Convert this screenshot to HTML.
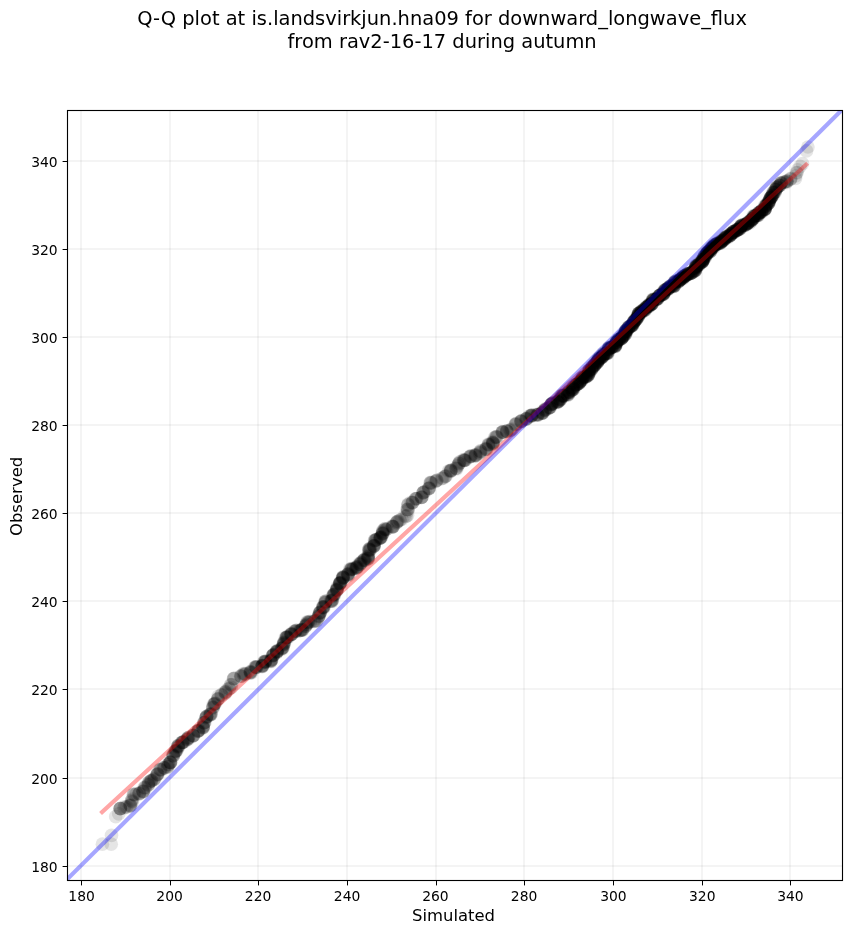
<!DOCTYPE html>
<html><head><meta charset="utf-8"><title>Q-Q plot</title>
<style>
html,body{margin:0;padding:0;background:#fff;}
svg{display:block;font-family:"DejaVu Sans","Liberation Sans",sans-serif;}
text{fill:#000;}
</style></head><body>
<svg width="851" height="934" viewBox="0 0 851 934">
<rect width="851" height="934" fill="#fff"/>
<defs><clipPath id="ax"><rect x="67.5" y="110.5" width="775.0" height="770.0"/></clipPath></defs>
<text x="442.1" y="25.1" font-size="19.44" text-anchor="middle">Q-Q plot at is.landsvirkjun.hna09 for downward_longwave_flux</text>
<text x="442.1" y="47.8" font-size="19.44" text-anchor="middle">from rav2-16-17 during autumn</text>
<g fill="#000" fill-opacity="0.045" clip-path="url(#ax)"><rect x="80" y="110.5" width="2" height="770.0"/><rect x="67.5" y="865" width="775.0" height="2"/><rect x="169" y="110.5" width="2" height="770.0"/><rect x="67.5" y="777" width="775.0" height="2"/><rect x="257" y="110.5" width="2" height="770.0"/><rect x="67.5" y="688" width="775.0" height="2"/><rect x="346" y="110.5" width="2" height="770.0"/><rect x="67.5" y="600" width="775.0" height="2"/><rect x="435" y="110.5" width="2" height="770.0"/><rect x="67.5" y="512" width="775.0" height="2"/><rect x="523" y="110.5" width="2" height="770.0"/><rect x="67.5" y="424" width="775.0" height="2"/><rect x="612" y="110.5" width="2" height="770.0"/><rect x="67.5" y="336" width="775.0" height="2"/><rect x="701" y="110.5" width="2" height="770.0"/><rect x="67.5" y="248" width="775.0" height="2"/><rect x="789" y="110.5" width="2" height="770.0"/><rect x="67.5" y="160" width="775.0" height="2"/></g>
<g clip-path="url(#ax)"><g fill="#000" fill-opacity="0.1"><circle cx="102.4" cy="844.2" r="6.85"/><circle cx="111.2" cy="844.2" r="6.85"/><circle cx="111.5" cy="835.3" r="6.85"/><circle cx="115.7" cy="816.7" r="6.85"/><circle cx="118.7" cy="813.8" r="6.85"/><circle cx="120.4" cy="808.6" r="6.85"/><circle cx="120.3" cy="808.7" r="6.85"/><circle cx="120.4" cy="808.4" r="6.85"/><circle cx="120.1" cy="808.6" r="6.85"/><circle cx="120.1" cy="808.5" r="6.85"/><circle cx="124.5" cy="806.9" r="6.85"/><circle cx="125.8" cy="807.2" r="6.85"/><circle cx="126.9" cy="806.9" r="6.85"/><circle cx="123.8" cy="808.2" r="6.85"/><circle cx="130.2" cy="804.6" r="6.85"/><circle cx="130.3" cy="805.6" r="6.85"/><circle cx="129.2" cy="806.2" r="6.85"/><circle cx="130.7" cy="805.7" r="6.85"/><circle cx="130.2" cy="805.7" r="6.85"/><circle cx="131.7" cy="800.4" r="6.85"/><circle cx="131.7" cy="802.2" r="6.85"/><circle cx="132.3" cy="799.1" r="6.85"/><circle cx="131.4" cy="800.9" r="6.85"/><circle cx="132.5" cy="801.5" r="6.85"/><circle cx="134.8" cy="794.8" r="6.85"/><circle cx="133.5" cy="794.1" r="6.85"/><circle cx="134.1" cy="794.3" r="6.85"/><circle cx="133.5" cy="794.7" r="6.85"/><circle cx="136.6" cy="793.9" r="6.85"/><circle cx="139.7" cy="792.9" r="6.85"/><circle cx="139.1" cy="793.9" r="6.85"/><circle cx="138.8" cy="793.6" r="6.85"/><circle cx="139.4" cy="793.6" r="6.85"/><circle cx="142.8" cy="792.1" r="6.85"/><circle cx="143.1" cy="791.1" r="6.85"/><circle cx="143.0" cy="791.3" r="6.85"/><circle cx="143.4" cy="791.5" r="6.85"/><circle cx="143.3" cy="791.2" r="6.85"/><circle cx="144.9" cy="788.9" r="6.85"/><circle cx="144.8" cy="787.7" r="6.85"/><circle cx="144.2" cy="787.7" r="6.85"/><circle cx="145.4" cy="787.4" r="6.85"/><circle cx="148.8" cy="782.6" r="6.85"/><circle cx="148.3" cy="784.9" r="6.85"/><circle cx="148.5" cy="785.0" r="6.85"/><circle cx="148.3" cy="784.7" r="6.85"/><circle cx="148.2" cy="783.7" r="6.85"/><circle cx="151.9" cy="780.7" r="6.85"/><circle cx="150.7" cy="781.1" r="6.85"/><circle cx="151.6" cy="780.7" r="6.85"/><circle cx="150.6" cy="781.1" r="6.85"/><circle cx="151.3" cy="780.7" r="6.85"/><circle cx="149.4" cy="781.8" r="6.85"/><circle cx="153.6" cy="779.3" r="6.85"/><circle cx="154.6" cy="778.8" r="6.85"/><circle cx="153.9" cy="779.7" r="6.85"/><circle cx="154.9" cy="778.2" r="6.85"/><circle cx="157.4" cy="774.3" r="6.85"/><circle cx="156.9" cy="775.1" r="6.85"/><circle cx="157.4" cy="773.8" r="6.85"/><circle cx="157.9" cy="774.1" r="6.85"/><circle cx="157.4" cy="774.0" r="6.85"/><circle cx="157.0" cy="774.8" r="6.85"/><circle cx="160.6" cy="769.9" r="6.85"/><circle cx="161.7" cy="769.6" r="6.85"/><circle cx="160.2" cy="769.4" r="6.85"/><circle cx="160.4" cy="769.9" r="6.85"/><circle cx="159.7" cy="769.6" r="6.85"/><circle cx="163.4" cy="767.7" r="6.85"/><circle cx="164.7" cy="767.9" r="6.85"/><circle cx="163.7" cy="767.9" r="6.85"/><circle cx="164.4" cy="768.0" r="6.85"/><circle cx="168.0" cy="766.8" r="6.85"/><circle cx="167.6" cy="767.2" r="6.85"/><circle cx="167.4" cy="766.5" r="6.85"/><circle cx="168.0" cy="764.8" r="6.85"/><circle cx="168.8" cy="764.3" r="6.85"/><circle cx="168.2" cy="764.4" r="6.85"/><circle cx="170.5" cy="762.4" r="6.85"/><circle cx="170.7" cy="762.4" r="6.85"/><circle cx="170.0" cy="762.4" r="6.85"/><circle cx="170.6" cy="761.9" r="6.85"/><circle cx="170.2" cy="762.8" r="6.85"/><circle cx="169.8" cy="762.4" r="6.85"/><circle cx="170.3" cy="762.4" r="6.85"/><circle cx="172.7" cy="754.9" r="6.85"/><circle cx="173.3" cy="756.0" r="6.85"/><circle cx="173.6" cy="755.5" r="6.85"/><circle cx="173.5" cy="754.2" r="6.85"/><circle cx="173.3" cy="755.8" r="6.85"/><circle cx="172.9" cy="755.7" r="6.85"/><circle cx="176.0" cy="750.8" r="6.85"/><circle cx="175.1" cy="752.4" r="6.85"/><circle cx="176.4" cy="750.5" r="6.85"/><circle cx="175.4" cy="751.5" r="6.85"/><circle cx="175.1" cy="751.5" r="6.85"/><circle cx="176.1" cy="751.1" r="6.85"/><circle cx="176.9" cy="750.4" r="6.85"/><circle cx="175.5" cy="750.7" r="6.85"/><circle cx="178.2" cy="745.3" r="6.85"/><circle cx="178.0" cy="745.9" r="6.85"/><circle cx="178.1" cy="747.6" r="6.85"/><circle cx="178.3" cy="745.6" r="6.85"/><circle cx="178.6" cy="746.5" r="6.85"/><circle cx="178.4" cy="747.1" r="6.85"/><circle cx="178.0" cy="746.4" r="6.85"/><circle cx="177.6" cy="746.5" r="6.85"/><circle cx="183.5" cy="741.8" r="6.85"/><circle cx="182.2" cy="742.7" r="6.85"/><circle cx="184.4" cy="741.8" r="6.85"/><circle cx="182.5" cy="742.3" r="6.85"/><circle cx="182.3" cy="742.2" r="6.85"/><circle cx="182.8" cy="742.3" r="6.85"/><circle cx="183.1" cy="742.2" r="6.85"/><circle cx="181.7" cy="742.4" r="6.85"/><circle cx="181.5" cy="742.9" r="6.85"/><circle cx="187.5" cy="739.1" r="6.85"/><circle cx="188.5" cy="737.7" r="6.85"/><circle cx="187.7" cy="738.1" r="6.85"/><circle cx="187.8" cy="737.9" r="6.85"/><circle cx="188.6" cy="738.9" r="6.85"/><circle cx="187.1" cy="739.8" r="6.85"/><circle cx="188.0" cy="738.8" r="6.85"/><circle cx="186.9" cy="739.3" r="6.85"/><circle cx="188.7" cy="737.4" r="6.85"/><circle cx="193.0" cy="735.4" r="6.85"/><circle cx="193.0" cy="735.9" r="6.85"/><circle cx="193.4" cy="735.9" r="6.85"/><circle cx="193.3" cy="735.6" r="6.85"/><circle cx="193.0" cy="735.4" r="6.85"/><circle cx="193.5" cy="735.5" r="6.85"/><circle cx="197.7" cy="731.4" r="6.85"/><circle cx="197.4" cy="731.0" r="6.85"/><circle cx="198.2" cy="731.0" r="6.85"/><circle cx="199.0" cy="730.1" r="6.85"/><circle cx="198.9" cy="730.6" r="6.85"/><circle cx="198.1" cy="731.1" r="6.85"/><circle cx="198.4" cy="730.7" r="6.85"/><circle cx="198.0" cy="731.0" r="6.85"/><circle cx="202.8" cy="727.6" r="6.85"/><circle cx="203.0" cy="727.7" r="6.85"/><circle cx="203.0" cy="727.2" r="6.85"/><circle cx="203.4" cy="725.7" r="6.85"/><circle cx="203.3" cy="726.9" r="6.85"/><circle cx="202.9" cy="726.6" r="6.85"/><circle cx="203.1" cy="728.0" r="6.85"/><circle cx="204.1" cy="722.6" r="6.85"/><circle cx="204.0" cy="723.0" r="6.85"/><circle cx="204.4" cy="722.6" r="6.85"/><circle cx="203.8" cy="722.6" r="6.85"/><circle cx="205.0" cy="722.0" r="6.85"/><circle cx="206.2" cy="717.7" r="6.85"/><circle cx="206.5" cy="716.3" r="6.85"/><circle cx="206.5" cy="716.9" r="6.85"/><circle cx="205.7" cy="718.0" r="6.85"/><circle cx="206.5" cy="716.6" r="6.85"/><circle cx="206.5" cy="716.6" r="6.85"/><circle cx="207.2" cy="716.5" r="6.85"/><circle cx="210.8" cy="714.7" r="6.85"/><circle cx="211.2" cy="714.3" r="6.85"/><circle cx="210.7" cy="713.6" r="6.85"/><circle cx="209.4" cy="714.6" r="6.85"/><circle cx="210.0" cy="715.2" r="6.85"/><circle cx="210.2" cy="714.2" r="6.85"/><circle cx="210.5" cy="714.4" r="6.85"/><circle cx="213.0" cy="707.4" r="6.85"/><circle cx="212.7" cy="707.5" r="6.85"/><circle cx="213.0" cy="708.4" r="6.85"/><circle cx="213.1" cy="707.0" r="6.85"/><circle cx="214.9" cy="703.8" r="6.85"/><circle cx="214.8" cy="703.2" r="6.85"/><circle cx="214.3" cy="704.0" r="6.85"/><circle cx="215.3" cy="703.3" r="6.85"/><circle cx="214.2" cy="704.6" r="6.85"/><circle cx="214.3" cy="703.8" r="6.85"/><circle cx="213.2" cy="704.5" r="6.85"/><circle cx="218.2" cy="696.4" r="6.85"/><circle cx="217.9" cy="699.2" r="6.85"/><circle cx="218.1" cy="698.5" r="6.85"/><circle cx="217.8" cy="699.5" r="6.85"/><circle cx="218.0" cy="698.8" r="6.85"/><circle cx="220.9" cy="695.0" r="6.85"/><circle cx="221.6" cy="694.7" r="6.85"/><circle cx="221.7" cy="695.4" r="6.85"/><circle cx="225.3" cy="692.1" r="6.85"/><circle cx="225.4" cy="693.5" r="6.85"/><circle cx="225.0" cy="692.1" r="6.85"/><circle cx="226.2" cy="691.4" r="6.85"/><circle cx="225.7" cy="692.4" r="6.85"/><circle cx="229.2" cy="688.6" r="6.85"/><circle cx="227.1" cy="689.6" r="6.85"/><circle cx="229.0" cy="688.4" r="6.85"/><circle cx="231.1" cy="684.6" r="6.85"/><circle cx="231.8" cy="684.8" r="6.85"/><circle cx="231.3" cy="687.6" r="6.85"/><circle cx="230.5" cy="684.8" r="6.85"/><circle cx="234.4" cy="678.3" r="6.85"/><circle cx="233.7" cy="678.4" r="6.85"/><circle cx="233.5" cy="678.6" r="6.85"/><circle cx="233.8" cy="678.8" r="6.85"/><circle cx="241.0" cy="675.9" r="6.85"/><circle cx="241.1" cy="676.2" r="6.85"/><circle cx="240.6" cy="676.2" r="6.85"/><circle cx="241.3" cy="676.5" r="6.85"/><circle cx="244.6" cy="674.0" r="6.85"/><circle cx="245.1" cy="674.1" r="6.85"/><circle cx="244.1" cy="673.3" r="6.85"/><circle cx="243.2" cy="674.0" r="6.85"/><circle cx="245.7" cy="673.8" r="6.85"/><circle cx="243.7" cy="674.8" r="6.85"/><circle cx="251.7" cy="672.6" r="6.85"/><circle cx="250.3" cy="671.7" r="6.85"/><circle cx="250.6" cy="671.6" r="6.85"/><circle cx="250.3" cy="672.6" r="6.85"/><circle cx="250.7" cy="672.2" r="6.85"/><circle cx="250.8" cy="672.4" r="6.85"/><circle cx="250.3" cy="673.1" r="6.85"/><circle cx="255.7" cy="666.8" r="6.85"/><circle cx="256.8" cy="667.5" r="6.85"/><circle cx="256.4" cy="667.2" r="6.85"/><circle cx="256.1" cy="667.0" r="6.85"/><circle cx="255.0" cy="666.9" r="6.85"/><circle cx="256.0" cy="666.9" r="6.85"/><circle cx="256.3" cy="667.7" r="6.85"/><circle cx="255.1" cy="667.4" r="6.85"/><circle cx="262.5" cy="665.6" r="6.85"/><circle cx="262.8" cy="666.2" r="6.85"/><circle cx="261.9" cy="665.7" r="6.85"/><circle cx="262.3" cy="666.6" r="6.85"/><circle cx="261.9" cy="666.4" r="6.85"/><circle cx="262.4" cy="665.8" r="6.85"/><circle cx="262.4" cy="665.6" r="6.85"/><circle cx="262.3" cy="665.5" r="6.85"/><circle cx="264.1" cy="661.8" r="6.85"/><circle cx="264.4" cy="661.7" r="6.85"/><circle cx="265.2" cy="662.1" r="6.85"/><circle cx="263.8" cy="661.8" r="6.85"/><circle cx="265.3" cy="661.3" r="6.85"/><circle cx="265.4" cy="661.0" r="6.85"/><circle cx="265.4" cy="662.0" r="6.85"/><circle cx="264.7" cy="662.6" r="6.85"/><circle cx="265.7" cy="661.7" r="6.85"/><circle cx="270.4" cy="660.0" r="6.85"/><circle cx="272.0" cy="659.5" r="6.85"/><circle cx="271.5" cy="660.0" r="6.85"/><circle cx="271.0" cy="661.7" r="6.85"/><circle cx="271.1" cy="660.2" r="6.85"/><circle cx="270.9" cy="661.2" r="6.85"/><circle cx="270.8" cy="661.0" r="6.85"/><circle cx="271.0" cy="660.6" r="6.85"/><circle cx="270.5" cy="661.0" r="6.85"/><circle cx="272.9" cy="655.0" r="6.85"/><circle cx="273.3" cy="655.4" r="6.85"/><circle cx="273.1" cy="654.9" r="6.85"/><circle cx="273.2" cy="655.6" r="6.85"/><circle cx="272.3" cy="655.8" r="6.85"/><circle cx="272.4" cy="655.9" r="6.85"/><circle cx="273.6" cy="654.9" r="6.85"/><circle cx="273.4" cy="654.7" r="6.85"/><circle cx="278.1" cy="650.7" r="6.85"/><circle cx="276.9" cy="652.6" r="6.85"/><circle cx="276.8" cy="651.4" r="6.85"/><circle cx="276.7" cy="651.3" r="6.85"/><circle cx="277.0" cy="651.7" r="6.85"/><circle cx="276.9" cy="651.5" r="6.85"/><circle cx="277.0" cy="651.9" r="6.85"/><circle cx="276.7" cy="651.4" r="6.85"/><circle cx="277.1" cy="652.1" r="6.85"/><circle cx="276.8" cy="650.5" r="6.85"/><circle cx="283.0" cy="647.8" r="6.85"/><circle cx="283.2" cy="647.1" r="6.85"/><circle cx="281.7" cy="648.6" r="6.85"/><circle cx="281.6" cy="648.4" r="6.85"/><circle cx="282.2" cy="649.1" r="6.85"/><circle cx="281.4" cy="648.5" r="6.85"/><circle cx="282.5" cy="648.0" r="6.85"/><circle cx="282.3" cy="647.7" r="6.85"/><circle cx="283.9" cy="642.6" r="6.85"/><circle cx="283.7" cy="644.5" r="6.85"/><circle cx="283.7" cy="643.2" r="6.85"/><circle cx="284.5" cy="643.4" r="6.85"/><circle cx="284.2" cy="641.7" r="6.85"/><circle cx="283.2" cy="643.9" r="6.85"/><circle cx="284.2" cy="642.6" r="6.85"/><circle cx="283.3" cy="644.9" r="6.85"/><circle cx="283.9" cy="644.3" r="6.85"/><circle cx="285.9" cy="637.9" r="6.85"/><circle cx="286.6" cy="637.3" r="6.85"/><circle cx="287.0" cy="636.9" r="6.85"/><circle cx="286.9" cy="637.4" r="6.85"/><circle cx="286.0" cy="638.0" r="6.85"/><circle cx="287.8" cy="637.5" r="6.85"/><circle cx="285.5" cy="637.3" r="6.85"/><circle cx="288.2" cy="637.2" r="6.85"/><circle cx="286.9" cy="637.3" r="6.85"/><circle cx="286.8" cy="637.0" r="6.85"/><circle cx="290.7" cy="634.3" r="6.85"/><circle cx="290.8" cy="634.6" r="6.85"/><circle cx="291.7" cy="634.3" r="6.85"/><circle cx="291.1" cy="634.9" r="6.85"/><circle cx="291.1" cy="633.7" r="6.85"/><circle cx="291.8" cy="633.9" r="6.85"/><circle cx="291.7" cy="634.1" r="6.85"/><circle cx="291.4" cy="634.3" r="6.85"/><circle cx="296.4" cy="630.6" r="6.85"/><circle cx="295.5" cy="630.7" r="6.85"/><circle cx="299.5" cy="630.5" r="6.85"/><circle cx="294.8" cy="631.1" r="6.85"/><circle cx="295.2" cy="631.5" r="6.85"/><circle cx="296.7" cy="630.2" r="6.85"/><circle cx="297.5" cy="631.3" r="6.85"/><circle cx="295.5" cy="631.6" r="6.85"/><circle cx="294.8" cy="631.1" r="6.85"/><circle cx="300.4" cy="630.7" r="6.85"/><circle cx="300.7" cy="629.9" r="6.85"/><circle cx="301.2" cy="630.0" r="6.85"/><circle cx="302.5" cy="629.8" r="6.85"/><circle cx="302.2" cy="630.2" r="6.85"/><circle cx="302.5" cy="630.1" r="6.85"/><circle cx="300.8" cy="630.4" r="6.85"/><circle cx="302.3" cy="629.4" r="6.85"/><circle cx="302.0" cy="629.7" r="6.85"/><circle cx="306.4" cy="624.3" r="6.85"/><circle cx="305.8" cy="625.9" r="6.85"/><circle cx="305.4" cy="626.4" r="6.85"/><circle cx="306.1" cy="625.7" r="6.85"/><circle cx="306.0" cy="624.5" r="6.85"/><circle cx="305.3" cy="626.1" r="6.85"/><circle cx="307.1" cy="624.2" r="6.85"/><circle cx="310.2" cy="621.4" r="6.85"/><circle cx="308.7" cy="622.6" r="6.85"/><circle cx="307.4" cy="622.3" r="6.85"/><circle cx="307.6" cy="622.5" r="6.85"/><circle cx="308.3" cy="622.3" r="6.85"/><circle cx="308.7" cy="621.5" r="6.85"/><circle cx="306.9" cy="621.9" r="6.85"/><circle cx="310.6" cy="622.0" r="6.85"/><circle cx="316.8" cy="620.8" r="6.85"/><circle cx="314.4" cy="621.3" r="6.85"/><circle cx="313.5" cy="621.2" r="6.85"/><circle cx="314.7" cy="621.2" r="6.85"/><circle cx="315.2" cy="620.5" r="6.85"/><circle cx="316.4" cy="620.6" r="6.85"/><circle cx="319.3" cy="615.6" r="6.85"/><circle cx="318.7" cy="617.0" r="6.85"/><circle cx="317.8" cy="618.2" r="6.85"/><circle cx="318.6" cy="616.4" r="6.85"/><circle cx="318.9" cy="615.8" r="6.85"/><circle cx="318.6" cy="615.9" r="6.85"/><circle cx="320.3" cy="612.1" r="6.85"/><circle cx="320.3" cy="612.5" r="6.85"/><circle cx="319.9" cy="612.7" r="6.85"/><circle cx="319.4" cy="613.6" r="6.85"/><circle cx="319.4" cy="612.7" r="6.85"/><circle cx="319.8" cy="613.3" r="6.85"/><circle cx="320.4" cy="611.9" r="6.85"/><circle cx="322.6" cy="607.1" r="6.85"/><circle cx="323.6" cy="607.2" r="6.85"/><circle cx="322.8" cy="606.9" r="6.85"/><circle cx="323.4" cy="607.2" r="6.85"/><circle cx="323.9" cy="606.5" r="6.85"/><circle cx="323.5" cy="607.1" r="6.85"/><circle cx="323.8" cy="608.2" r="6.85"/><circle cx="322.5" cy="608.0" r="6.85"/><circle cx="323.0" cy="607.6" r="6.85"/><circle cx="325.7" cy="602.3" r="6.85"/><circle cx="325.8" cy="601.4" r="6.85"/><circle cx="325.3" cy="601.2" r="6.85"/><circle cx="325.1" cy="602.5" r="6.85"/><circle cx="325.2" cy="601.4" r="6.85"/><circle cx="325.8" cy="601.7" r="6.85"/><circle cx="325.5" cy="602.8" r="6.85"/><circle cx="332.1" cy="600.0" r="6.85"/><circle cx="331.7" cy="601.1" r="6.85"/><circle cx="331.3" cy="600.6" r="6.85"/><circle cx="331.9" cy="601.0" r="6.85"/><circle cx="330.9" cy="601.1" r="6.85"/><circle cx="330.5" cy="601.0" r="6.85"/><circle cx="331.9" cy="601.4" r="6.85"/><circle cx="332.3" cy="600.0" r="6.85"/><circle cx="332.5" cy="596.7" r="6.85"/><circle cx="333.8" cy="594.5" r="6.85"/><circle cx="333.4" cy="595.2" r="6.85"/><circle cx="333.0" cy="594.8" r="6.85"/><circle cx="334.5" cy="593.8" r="6.85"/><circle cx="333.6" cy="594.6" r="6.85"/><circle cx="334.4" cy="594.3" r="6.85"/><circle cx="334.0" cy="595.0" r="6.85"/><circle cx="334.0" cy="595.9" r="6.85"/><circle cx="337.0" cy="589.5" r="6.85"/><circle cx="337.0" cy="589.9" r="6.85"/><circle cx="337.2" cy="589.1" r="6.85"/><circle cx="336.7" cy="590.1" r="6.85"/><circle cx="336.1" cy="590.2" r="6.85"/><circle cx="337.0" cy="588.3" r="6.85"/><circle cx="337.2" cy="589.0" r="6.85"/><circle cx="337.0" cy="590.6" r="6.85"/><circle cx="336.7" cy="590.0" r="6.85"/><circle cx="337.3" cy="587.1" r="6.85"/><circle cx="340.1" cy="583.7" r="6.85"/><circle cx="339.5" cy="584.2" r="6.85"/><circle cx="340.0" cy="582.8" r="6.85"/><circle cx="339.7" cy="583.6" r="6.85"/><circle cx="340.0" cy="583.7" r="6.85"/><circle cx="340.4" cy="582.9" r="6.85"/><circle cx="340.3" cy="582.4" r="6.85"/><circle cx="339.6" cy="583.1" r="6.85"/><circle cx="341.0" cy="582.5" r="6.85"/><circle cx="339.8" cy="583.2" r="6.85"/><circle cx="340.0" cy="583.6" r="6.85"/><circle cx="342.5" cy="577.3" r="6.85"/><circle cx="342.9" cy="578.1" r="6.85"/><circle cx="343.1" cy="577.2" r="6.85"/><circle cx="343.0" cy="576.7" r="6.85"/><circle cx="342.3" cy="578.6" r="6.85"/><circle cx="343.0" cy="577.6" r="6.85"/><circle cx="343.6" cy="577.7" r="6.85"/><circle cx="343.2" cy="577.5" r="6.85"/><circle cx="342.9" cy="578.1" r="6.85"/><circle cx="343.0" cy="577.4" r="6.85"/><circle cx="347.6" cy="574.7" r="6.85"/><circle cx="348.3" cy="573.7" r="6.85"/><circle cx="348.0" cy="573.8" r="6.85"/><circle cx="347.9" cy="574.7" r="6.85"/><circle cx="348.3" cy="575.2" r="6.85"/><circle cx="348.3" cy="575.9" r="6.85"/><circle cx="348.3" cy="574.2" r="6.85"/><circle cx="347.6" cy="574.6" r="6.85"/><circle cx="352.5" cy="569.0" r="6.85"/><circle cx="350.7" cy="569.8" r="6.85"/><circle cx="351.7" cy="568.4" r="6.85"/><circle cx="352.7" cy="569.5" r="6.85"/><circle cx="353.4" cy="568.8" r="6.85"/><circle cx="351.8" cy="569.4" r="6.85"/><circle cx="351.2" cy="568.9" r="6.85"/><circle cx="349.7" cy="569.0" r="6.85"/><circle cx="350.3" cy="569.7" r="6.85"/><circle cx="350.9" cy="569.5" r="6.85"/><circle cx="356.1" cy="568.0" r="6.85"/><circle cx="355.8" cy="568.0" r="6.85"/><circle cx="356.2" cy="568.2" r="6.85"/><circle cx="356.2" cy="566.8" r="6.85"/><circle cx="356.9" cy="567.1" r="6.85"/><circle cx="357.3" cy="566.9" r="6.85"/><circle cx="356.8" cy="568.1" r="6.85"/><circle cx="357.5" cy="567.4" r="6.85"/><circle cx="357.3" cy="566.6" r="6.85"/><circle cx="358.9" cy="563.8" r="6.85"/><circle cx="360.3" cy="563.9" r="6.85"/><circle cx="359.9" cy="564.4" r="6.85"/><circle cx="359.9" cy="564.5" r="6.85"/><circle cx="360.5" cy="562.9" r="6.85"/><circle cx="360.5" cy="564.1" r="6.85"/><circle cx="360.9" cy="562.6" r="6.85"/><circle cx="361.5" cy="562.6" r="6.85"/><circle cx="365.2" cy="560.2" r="6.85"/><circle cx="364.0" cy="560.0" r="6.85"/><circle cx="363.9" cy="559.9" r="6.85"/><circle cx="363.6" cy="560.6" r="6.85"/><circle cx="364.8" cy="558.9" r="6.85"/><circle cx="362.9" cy="560.6" r="6.85"/><circle cx="365.2" cy="560.3" r="6.85"/><circle cx="364.2" cy="559.9" r="6.85"/><circle cx="368.0" cy="556.5" r="6.85"/><circle cx="368.5" cy="555.9" r="6.85"/><circle cx="368.0" cy="555.2" r="6.85"/><circle cx="367.7" cy="557.1" r="6.85"/><circle cx="368.2" cy="558.5" r="6.85"/><circle cx="367.6" cy="558.6" r="6.85"/><circle cx="368.2" cy="557.1" r="6.85"/><circle cx="367.9" cy="558.6" r="6.85"/><circle cx="368.5" cy="558.8" r="6.85"/><circle cx="368.2" cy="557.8" r="6.85"/><circle cx="370.2" cy="550.2" r="6.85"/><circle cx="370.4" cy="549.5" r="6.85"/><circle cx="370.5" cy="548.1" r="6.85"/><circle cx="369.5" cy="549.4" r="6.85"/><circle cx="369.3" cy="548.7" r="6.85"/><circle cx="369.5" cy="550.5" r="6.85"/><circle cx="369.0" cy="549.3" r="6.85"/><circle cx="369.4" cy="549.9" r="6.85"/><circle cx="368.8" cy="549.7" r="6.85"/><circle cx="369.1" cy="551.0" r="6.85"/><circle cx="374.4" cy="543.9" r="6.85"/><circle cx="373.5" cy="546.7" r="6.85"/><circle cx="373.7" cy="545.7" r="6.85"/><circle cx="373.9" cy="546.2" r="6.85"/><circle cx="374.2" cy="545.9" r="6.85"/><circle cx="373.6" cy="545.5" r="6.85"/><circle cx="374.1" cy="545.8" r="6.85"/><circle cx="373.9" cy="546.1" r="6.85"/><circle cx="376.1" cy="539.7" r="6.85"/><circle cx="375.6" cy="539.8" r="6.85"/><circle cx="375.1" cy="540.7" r="6.85"/><circle cx="377.3" cy="539.7" r="6.85"/><circle cx="375.7" cy="540.4" r="6.85"/><circle cx="376.3" cy="539.6" r="6.85"/><circle cx="374.6" cy="540.1" r="6.85"/><circle cx="374.4" cy="540.7" r="6.85"/><circle cx="379.9" cy="538.1" r="6.85"/><circle cx="380.3" cy="538.2" r="6.85"/><circle cx="381.0" cy="536.9" r="6.85"/><circle cx="379.4" cy="538.5" r="6.85"/><circle cx="380.6" cy="537.1" r="6.85"/><circle cx="380.4" cy="537.8" r="6.85"/><circle cx="380.9" cy="537.6" r="6.85"/><circle cx="380.5" cy="537.3" r="6.85"/><circle cx="381.3" cy="537.6" r="6.85"/><circle cx="382.6" cy="530.8" r="6.85"/><circle cx="382.7" cy="533.5" r="6.85"/><circle cx="382.6" cy="531.9" r="6.85"/><circle cx="382.6" cy="533.9" r="6.85"/><circle cx="382.7" cy="532.9" r="6.85"/><circle cx="383.1" cy="533.6" r="6.85"/><circle cx="382.7" cy="532.7" r="6.85"/><circle cx="382.3" cy="533.5" r="6.85"/><circle cx="385.3" cy="529.5" r="6.85"/><circle cx="383.5" cy="530.3" r="6.85"/><circle cx="384.9" cy="529.1" r="6.85"/><circle cx="384.7" cy="528.6" r="6.85"/><circle cx="385.0" cy="529.2" r="6.85"/><circle cx="386.1" cy="529.5" r="6.85"/><circle cx="387.6" cy="528.6" r="6.85"/><circle cx="386.3" cy="529.5" r="6.85"/><circle cx="393.2" cy="526.6" r="6.85"/><circle cx="393.0" cy="526.8" r="6.85"/><circle cx="393.2" cy="526.3" r="6.85"/><circle cx="392.6" cy="526.4" r="6.85"/><circle cx="392.7" cy="526.8" r="6.85"/><circle cx="392.2" cy="527.1" r="6.85"/><circle cx="392.0" cy="526.2" r="6.85"/><circle cx="398.1" cy="521.0" r="6.85"/><circle cx="396.9" cy="521.8" r="6.85"/><circle cx="397.8" cy="521.5" r="6.85"/><circle cx="396.3" cy="522.9" r="6.85"/><circle cx="396.7" cy="522.6" r="6.85"/><circle cx="397.0" cy="521.7" r="6.85"/><circle cx="401.8" cy="519.3" r="6.85"/><circle cx="400.1" cy="520.0" r="6.85"/><circle cx="399.8" cy="520.1" r="6.85"/><circle cx="404.5" cy="515.8" r="6.85"/><circle cx="405.6" cy="516.6" r="6.85"/><circle cx="407.6" cy="515.3" r="6.85"/><circle cx="406.5" cy="516.1" r="6.85"/><circle cx="408.1" cy="510.8" r="6.85"/><circle cx="407.9" cy="509.4" r="6.85"/><circle cx="407.2" cy="509.3" r="6.85"/><circle cx="407.5" cy="509.4" r="6.85"/><circle cx="407.8" cy="509.6" r="6.85"/><circle cx="408.1" cy="505.1" r="6.85"/><circle cx="407.9" cy="504.8" r="6.85"/><circle cx="408.1" cy="504.0" r="6.85"/><circle cx="412.4" cy="502.6" r="6.85"/><circle cx="412.6" cy="502.8" r="6.85"/><circle cx="410.9" cy="502.4" r="6.85"/><circle cx="412.4" cy="502.6" r="6.85"/><circle cx="412.4" cy="502.3" r="6.85"/><circle cx="415.4" cy="498.8" r="6.85"/><circle cx="416.9" cy="498.5" r="6.85"/><circle cx="416.3" cy="498.8" r="6.85"/><circle cx="415.5" cy="498.9" r="6.85"/><circle cx="416.2" cy="498.5" r="6.85"/><circle cx="422.1" cy="497.0" r="6.85"/><circle cx="421.5" cy="497.1" r="6.85"/><circle cx="421.7" cy="497.5" r="6.85"/><circle cx="421.6" cy="497.4" r="6.85"/><circle cx="421.4" cy="497.3" r="6.85"/><circle cx="425.4" cy="491.5" r="6.85"/><circle cx="423.7" cy="492.2" r="6.85"/><circle cx="423.7" cy="492.2" r="6.85"/><circle cx="423.1" cy="492.7" r="6.85"/><circle cx="423.1" cy="492.8" r="6.85"/><circle cx="422.9" cy="492.8" r="6.85"/><circle cx="428.9" cy="488.7" r="6.85"/><circle cx="429.3" cy="488.3" r="6.85"/><circle cx="428.6" cy="488.5" r="6.85"/><circle cx="429.0" cy="488.4" r="6.85"/><circle cx="429.1" cy="487.6" r="6.85"/><circle cx="431.8" cy="482.8" r="6.85"/><circle cx="430.4" cy="482.9" r="6.85"/><circle cx="430.9" cy="482.6" r="6.85"/><circle cx="430.7" cy="483.1" r="6.85"/><circle cx="430.3" cy="482.4" r="6.85"/><circle cx="436.9" cy="480.2" r="6.85"/><circle cx="436.1" cy="481.2" r="6.85"/><circle cx="436.3" cy="480.5" r="6.85"/><circle cx="436.7" cy="480.5" r="6.85"/><circle cx="435.1" cy="481.7" r="6.85"/><circle cx="442.9" cy="478.3" r="6.85"/><circle cx="441.5" cy="478.6" r="6.85"/><circle cx="442.6" cy="478.0" r="6.85"/><circle cx="445.2" cy="476.3" r="6.85"/><circle cx="444.7" cy="476.9" r="6.85"/><circle cx="446.2" cy="475.9" r="6.85"/><circle cx="445.5" cy="476.1" r="6.85"/><circle cx="451.0" cy="470.1" r="6.85"/><circle cx="450.8" cy="470.5" r="6.85"/><circle cx="448.4" cy="471.0" r="6.85"/><circle cx="450.7" cy="470.7" r="6.85"/><circle cx="450.6" cy="471.1" r="6.85"/><circle cx="451.0" cy="470.7" r="6.85"/><circle cx="450.6" cy="471.5" r="6.85"/><circle cx="449.9" cy="470.5" r="6.85"/><circle cx="456.9" cy="468.8" r="6.85"/><circle cx="456.2" cy="468.2" r="6.85"/><circle cx="457.3" cy="466.2" r="6.85"/><circle cx="456.4" cy="468.2" r="6.85"/><circle cx="455.7" cy="468.5" r="6.85"/><circle cx="459.0" cy="463.3" r="6.85"/><circle cx="459.4" cy="462.2" r="6.85"/><circle cx="458.8" cy="463.8" r="6.85"/><circle cx="458.3" cy="465.1" r="6.85"/><circle cx="460.1" cy="461.9" r="6.85"/><circle cx="459.2" cy="463.4" r="6.85"/><circle cx="464.0" cy="460.3" r="6.85"/><circle cx="465.5" cy="460.0" r="6.85"/><circle cx="464.3" cy="460.5" r="6.85"/><circle cx="463.6" cy="460.2" r="6.85"/><circle cx="465.2" cy="460.5" r="6.85"/><circle cx="463.5" cy="459.7" r="6.85"/><circle cx="464.4" cy="460.5" r="6.85"/><circle cx="464.6" cy="459.9" r="6.85"/><circle cx="471.2" cy="456.5" r="6.85"/><circle cx="470.9" cy="456.2" r="6.85"/><circle cx="468.9" cy="457.3" r="6.85"/><circle cx="470.5" cy="456.4" r="6.85"/><circle cx="470.0" cy="456.7" r="6.85"/><circle cx="470.3" cy="455.9" r="6.85"/><circle cx="475.4" cy="454.8" r="6.85"/><circle cx="476.1" cy="455.3" r="6.85"/><circle cx="475.1" cy="455.9" r="6.85"/><circle cx="474.2" cy="455.7" r="6.85"/><circle cx="475.8" cy="454.9" r="6.85"/><circle cx="475.8" cy="455.9" r="6.85"/><circle cx="475.2" cy="455.2" r="6.85"/><circle cx="479.4" cy="452.9" r="6.85"/><circle cx="480.3" cy="450.9" r="6.85"/><circle cx="480.6" cy="452.1" r="6.85"/><circle cx="480.8" cy="451.5" r="6.85"/><circle cx="480.4" cy="451.2" r="6.85"/><circle cx="480.0" cy="453.1" r="6.85"/><circle cx="486.3" cy="449.1" r="6.85"/><circle cx="486.1" cy="448.9" r="6.85"/><circle cx="486.3" cy="448.0" r="6.85"/><circle cx="486.8" cy="449.6" r="6.85"/><circle cx="485.1" cy="449.3" r="6.85"/><circle cx="485.9" cy="449.2" r="6.85"/><circle cx="488.3" cy="444.1" r="6.85"/><circle cx="488.8" cy="444.9" r="6.85"/><circle cx="488.3" cy="445.0" r="6.85"/><circle cx="490.1" cy="444.5" r="6.85"/><circle cx="488.7" cy="444.5" r="6.85"/><circle cx="493.3" cy="443.4" r="6.85"/><circle cx="492.7" cy="442.6" r="6.85"/><circle cx="492.8" cy="441.3" r="6.85"/><circle cx="493.1" cy="442.3" r="6.85"/><circle cx="492.9" cy="442.7" r="6.85"/><circle cx="493.1" cy="443.8" r="6.85"/><circle cx="492.5" cy="444.1" r="6.85"/><circle cx="492.8" cy="442.9" r="6.85"/><circle cx="496.9" cy="436.9" r="6.85"/><circle cx="495.9" cy="437.1" r="6.85"/><circle cx="496.3" cy="436.7" r="6.85"/><circle cx="496.9" cy="437.3" r="6.85"/><circle cx="494.6" cy="437.5" r="6.85"/><circle cx="495.6" cy="436.8" r="6.85"/><circle cx="502.0" cy="432.1" r="6.85"/><circle cx="502.4" cy="432.1" r="6.85"/><circle cx="502.4" cy="432.1" r="6.85"/><circle cx="502.6" cy="431.9" r="6.85"/><circle cx="503.5" cy="432.2" r="6.85"/><circle cx="502.6" cy="432.1" r="6.85"/><circle cx="506.6" cy="431.1" r="6.85"/><circle cx="507.5" cy="431.6" r="6.85"/><circle cx="506.7" cy="431.0" r="6.85"/><circle cx="506.7" cy="431.4" r="6.85"/><circle cx="506.7" cy="431.1" r="6.85"/><circle cx="511.9" cy="428.8" r="6.85"/><circle cx="510.5" cy="429.8" r="6.85"/><circle cx="511.7" cy="429.9" r="6.85"/><circle cx="510.1" cy="430.5" r="6.85"/><circle cx="515.3" cy="424.6" r="6.85"/><circle cx="515.8" cy="423.7" r="6.85"/><circle cx="516.1" cy="424.5" r="6.85"/><circle cx="516.6" cy="423.3" r="6.85"/><circle cx="515.4" cy="424.3" r="6.85"/><circle cx="521.2" cy="421.7" r="6.85"/><circle cx="521.0" cy="421.3" r="6.85"/><circle cx="520.8" cy="421.4" r="6.85"/><circle cx="521.3" cy="421.5" r="6.85"/><circle cx="521.2" cy="420.8" r="6.85"/><circle cx="521.9" cy="420.4" r="6.85"/><circle cx="526.4" cy="418.9" r="6.85"/><circle cx="525.6" cy="419.1" r="6.85"/><circle cx="527.0" cy="418.8" r="6.85"/><circle cx="527.3" cy="417.9" r="6.85"/><circle cx="526.4" cy="418.6" r="6.85"/><circle cx="526.2" cy="419.0" r="6.85"/><circle cx="531.8" cy="415.3" r="6.85"/><circle cx="531.8" cy="415.1" r="6.85"/><circle cx="529.1" cy="416.2" r="6.85"/><circle cx="532.0" cy="415.8" r="6.85"/><circle cx="531.4" cy="415.2" r="6.85"/><circle cx="531.5" cy="415.8" r="6.85"/><circle cx="530.4" cy="415.7" r="6.85"/><circle cx="531.2" cy="415.7" r="6.85"/><circle cx="531.2" cy="415.8" r="6.85"/><circle cx="535.4" cy="414.9" r="6.85"/><circle cx="537.9" cy="414.5" r="6.85"/><circle cx="537.5" cy="414.8" r="6.85"/><circle cx="538.0" cy="415.1" r="6.85"/><circle cx="537.8" cy="414.9" r="6.85"/><circle cx="537.0" cy="415.0" r="6.85"/><circle cx="536.7" cy="414.4" r="6.85"/><circle cx="538.0" cy="414.5" r="6.85"/><circle cx="541.9" cy="411.9" r="6.85"/><circle cx="542.7" cy="412.4" r="6.85"/><circle cx="542.5" cy="413.2" r="6.85"/><circle cx="541.6" cy="413.4" r="6.85"/><circle cx="542.8" cy="413.1" r="6.85"/><circle cx="541.7" cy="413.2" r="6.85"/><circle cx="542.6" cy="412.8" r="6.85"/><circle cx="542.6" cy="412.7" r="6.85"/><circle cx="544.8" cy="409.9" r="6.85"/><circle cx="544.7" cy="410.2" r="6.85"/><circle cx="546.6" cy="409.4" r="6.85"/><circle cx="545.2" cy="409.1" r="6.85"/><circle cx="545.7" cy="408.9" r="6.85"/><circle cx="545.0" cy="410.4" r="6.85"/><circle cx="544.9" cy="410.1" r="6.85"/><circle cx="548.9" cy="408.0" r="6.85"/><circle cx="550.4" cy="407.5" r="6.85"/><circle cx="549.8" cy="407.2" r="6.85"/><circle cx="548.3" cy="408.5" r="6.85"/><circle cx="549.6" cy="407.7" r="6.85"/><circle cx="549.7" cy="407.5" r="6.85"/><circle cx="549.9" cy="407.3" r="6.85"/><circle cx="551.0" cy="404.7" r="6.85"/><circle cx="551.7" cy="403.7" r="6.85"/><circle cx="552.6" cy="402.9" r="6.85"/><circle cx="551.2" cy="404.3" r="6.85"/><circle cx="551.9" cy="403.6" r="6.85"/><circle cx="551.0" cy="404.5" r="6.85"/><circle cx="550.9" cy="404.6" r="6.85"/><circle cx="551.9" cy="403.6" r="6.85"/><circle cx="552.7" cy="403.7" r="6.85"/><circle cx="553.0" cy="402.9" r="6.85"/><circle cx="551.9" cy="404.4" r="6.85"/><circle cx="557.3" cy="402.3" r="6.85"/><circle cx="557.1" cy="401.7" r="6.85"/><circle cx="556.2" cy="402.2" r="6.85"/><circle cx="558.3" cy="401.7" r="6.85"/><circle cx="557.9" cy="401.9" r="6.85"/><circle cx="558.3" cy="401.4" r="6.85"/><circle cx="557.5" cy="401.9" r="6.85"/><circle cx="558.6" cy="401.6" r="6.85"/><circle cx="558.1" cy="400.9" r="6.85"/><circle cx="557.1" cy="401.5" r="6.85"/><circle cx="560.8" cy="399.3" r="6.85"/><circle cx="560.3" cy="399.6" r="6.85"/><circle cx="560.2" cy="399.1" r="6.85"/><circle cx="561.5" cy="397.9" r="6.85"/><circle cx="560.0" cy="399.8" r="6.85"/><circle cx="560.1" cy="399.2" r="6.85"/><circle cx="560.3" cy="398.2" r="6.85"/><circle cx="559.6" cy="398.9" r="6.85"/><circle cx="559.9" cy="400.5" r="6.85"/><circle cx="562.8" cy="395.8" r="6.85"/><circle cx="561.6" cy="395.8" r="6.85"/><circle cx="562.4" cy="395.3" r="6.85"/><circle cx="563.6" cy="395.7" r="6.85"/><circle cx="564.0" cy="395.7" r="6.85"/><circle cx="563.0" cy="395.9" r="6.85"/><circle cx="563.2" cy="395.6" r="6.85"/><circle cx="562.1" cy="396.4" r="6.85"/><circle cx="564.4" cy="395.1" r="6.85"/><circle cx="564.6" cy="395.8" r="6.85"/><circle cx="563.0" cy="395.2" r="6.85"/><circle cx="561.7" cy="395.3" r="6.85"/><circle cx="568.8" cy="392.2" r="6.85"/><circle cx="567.9" cy="392.8" r="6.85"/><circle cx="567.8" cy="394.2" r="6.85"/><circle cx="568.1" cy="395.0" r="6.85"/><circle cx="568.2" cy="394.8" r="6.85"/><circle cx="568.0" cy="392.5" r="6.85"/><circle cx="568.1" cy="394.0" r="6.85"/><circle cx="568.0" cy="394.3" r="6.85"/><circle cx="567.5" cy="393.9" r="6.85"/><circle cx="570.1" cy="392.3" r="6.85"/><circle cx="569.6" cy="390.4" r="6.85"/><circle cx="568.1" cy="391.8" r="6.85"/><circle cx="569.6" cy="392.1" r="6.85"/><circle cx="570.1" cy="391.7" r="6.85"/><circle cx="568.9" cy="391.6" r="6.85"/><circle cx="569.1" cy="391.4" r="6.85"/><circle cx="572.5" cy="389.6" r="6.85"/><circle cx="572.5" cy="390.0" r="6.85"/><circle cx="572.2" cy="389.6" r="6.85"/><circle cx="574.0" cy="389.2" r="6.85"/><circle cx="571.6" cy="390.3" r="6.85"/><circle cx="572.1" cy="390.0" r="6.85"/><circle cx="573.6" cy="388.0" r="6.85"/><circle cx="572.9" cy="387.5" r="6.85"/><circle cx="573.8" cy="386.9" r="6.85"/><circle cx="573.4" cy="388.0" r="6.85"/><circle cx="573.5" cy="388.8" r="6.85"/><circle cx="573.8" cy="386.1" r="6.85"/><circle cx="572.7" cy="387.3" r="6.85"/><circle cx="572.5" cy="388.6" r="6.85"/><circle cx="573.0" cy="389.6" r="6.85"/><circle cx="573.1" cy="387.5" r="6.85"/><circle cx="577.2" cy="384.3" r="6.85"/><circle cx="576.8" cy="384.0" r="6.85"/><circle cx="577.4" cy="384.2" r="6.85"/><circle cx="576.0" cy="384.6" r="6.85"/><circle cx="577.4" cy="384.5" r="6.85"/><circle cx="575.2" cy="384.8" r="6.85"/><circle cx="576.6" cy="384.4" r="6.85"/><circle cx="576.7" cy="384.3" r="6.85"/><circle cx="576.0" cy="384.9" r="6.85"/><circle cx="576.5" cy="384.6" r="6.85"/><circle cx="579.4" cy="382.3" r="6.85"/><circle cx="579.7" cy="382.2" r="6.85"/><circle cx="579.6" cy="381.3" r="6.85"/><circle cx="579.0" cy="383.3" r="6.85"/><circle cx="580.0" cy="381.8" r="6.85"/><circle cx="578.9" cy="383.2" r="6.85"/><circle cx="579.6" cy="382.8" r="6.85"/><circle cx="579.4" cy="383.1" r="6.85"/><circle cx="579.2" cy="382.7" r="6.85"/><circle cx="580.5" cy="381.0" r="6.85"/><circle cx="581.4" cy="379.8" r="6.85"/><circle cx="580.9" cy="380.7" r="6.85"/><circle cx="582.1" cy="379.1" r="6.85"/><circle cx="581.0" cy="380.5" r="6.85"/><circle cx="581.2" cy="380.8" r="6.85"/><circle cx="581.4" cy="380.9" r="6.85"/><circle cx="582.9" cy="377.6" r="6.85"/><circle cx="582.8" cy="378.7" r="6.85"/><circle cx="581.5" cy="378.2" r="6.85"/><circle cx="582.4" cy="378.9" r="6.85"/><circle cx="582.6" cy="377.3" r="6.85"/><circle cx="583.0" cy="377.4" r="6.85"/><circle cx="582.9" cy="377.5" r="6.85"/><circle cx="585.2" cy="376.5" r="6.85"/><circle cx="586.0" cy="376.9" r="6.85"/><circle cx="584.1" cy="376.7" r="6.85"/><circle cx="584.9" cy="376.5" r="6.85"/><circle cx="586.5" cy="376.3" r="6.85"/><circle cx="586.4" cy="376.5" r="6.85"/><circle cx="585.8" cy="376.8" r="6.85"/><circle cx="585.2" cy="376.9" r="6.85"/><circle cx="585.6" cy="376.6" r="6.85"/><circle cx="583.8" cy="376.6" r="6.85"/><circle cx="588.2" cy="373.9" r="6.85"/><circle cx="588.2" cy="374.7" r="6.85"/><circle cx="587.8" cy="375.4" r="6.85"/><circle cx="588.7" cy="374.4" r="6.85"/><circle cx="588.4" cy="374.6" r="6.85"/><circle cx="587.7" cy="375.9" r="6.85"/><circle cx="587.5" cy="376.1" r="6.85"/><circle cx="588.0" cy="373.5" r="6.85"/><circle cx="588.0" cy="374.6" r="6.85"/><circle cx="588.6" cy="374.9" r="6.85"/><circle cx="589.5" cy="372.2" r="6.85"/><circle cx="589.6" cy="370.1" r="6.85"/><circle cx="589.4" cy="370.2" r="6.85"/><circle cx="588.5" cy="370.5" r="6.85"/><circle cx="589.4" cy="372.2" r="6.85"/><circle cx="588.9" cy="370.7" r="6.85"/><circle cx="589.8" cy="369.9" r="6.85"/><circle cx="589.6" cy="372.2" r="6.85"/><circle cx="588.7" cy="371.0" r="6.85"/><circle cx="588.8" cy="371.8" r="6.85"/><circle cx="589.6" cy="370.6" r="6.85"/><circle cx="592.3" cy="368.6" r="6.85"/><circle cx="591.7" cy="368.6" r="6.85"/><circle cx="591.3" cy="369.6" r="6.85"/><circle cx="591.7" cy="369.7" r="6.85"/><circle cx="592.5" cy="368.1" r="6.85"/><circle cx="591.8" cy="366.8" r="6.85"/><circle cx="591.8" cy="367.1" r="6.85"/><circle cx="592.6" cy="366.6" r="6.85"/><circle cx="591.9" cy="367.9" r="6.85"/><circle cx="591.6" cy="368.4" r="6.85"/><circle cx="592.0" cy="367.3" r="6.85"/><circle cx="594.7" cy="364.8" r="6.85"/><circle cx="595.2" cy="364.1" r="6.85"/><circle cx="594.1" cy="365.9" r="6.85"/><circle cx="594.4" cy="365.7" r="6.85"/><circle cx="593.9" cy="364.6" r="6.85"/><circle cx="594.6" cy="365.4" r="6.85"/><circle cx="594.9" cy="364.1" r="6.85"/><circle cx="593.6" cy="366.2" r="6.85"/><circle cx="594.8" cy="364.4" r="6.85"/><circle cx="594.8" cy="364.7" r="6.85"/><circle cx="594.9" cy="365.4" r="6.85"/><circle cx="597.3" cy="362.1" r="6.85"/><circle cx="597.5" cy="360.4" r="6.85"/><circle cx="597.6" cy="362.2" r="6.85"/><circle cx="597.2" cy="361.8" r="6.85"/><circle cx="597.2" cy="361.7" r="6.85"/><circle cx="597.4" cy="361.3" r="6.85"/><circle cx="597.0" cy="362.8" r="6.85"/><circle cx="596.9" cy="362.9" r="6.85"/><circle cx="596.9" cy="361.8" r="6.85"/><circle cx="597.6" cy="362.2" r="6.85"/><circle cx="596.9" cy="360.6" r="6.85"/><circle cx="599.6" cy="358.1" r="6.85"/><circle cx="598.5" cy="360.0" r="6.85"/><circle cx="598.8" cy="359.3" r="6.85"/><circle cx="598.9" cy="358.7" r="6.85"/><circle cx="599.3" cy="359.4" r="6.85"/><circle cx="599.2" cy="358.6" r="6.85"/><circle cx="598.9" cy="359.6" r="6.85"/><circle cx="598.6" cy="358.6" r="6.85"/><circle cx="598.8" cy="360.4" r="6.85"/><circle cx="601.8" cy="357.2" r="6.85"/><circle cx="600.3" cy="357.2" r="6.85"/><circle cx="601.0" cy="358.1" r="6.85"/><circle cx="602.3" cy="356.3" r="6.85"/><circle cx="602.8" cy="357.0" r="6.85"/><circle cx="601.2" cy="357.8" r="6.85"/><circle cx="600.7" cy="357.8" r="6.85"/><circle cx="601.7" cy="357.5" r="6.85"/><circle cx="600.5" cy="356.7" r="6.85"/><circle cx="601.9" cy="357.3" r="6.85"/><circle cx="603.1" cy="355.9" r="6.85"/><circle cx="603.7" cy="354.2" r="6.85"/><circle cx="602.9" cy="353.3" r="6.85"/><circle cx="602.8" cy="355.8" r="6.85"/><circle cx="603.3" cy="355.1" r="6.85"/><circle cx="603.1" cy="355.8" r="6.85"/><circle cx="603.8" cy="354.1" r="6.85"/><circle cx="603.1" cy="356.2" r="6.85"/><circle cx="603.5" cy="354.6" r="6.85"/><circle cx="603.1" cy="354.9" r="6.85"/><circle cx="606.7" cy="353.6" r="6.85"/><circle cx="608.0" cy="353.4" r="6.85"/><circle cx="605.4" cy="353.3" r="6.85"/><circle cx="605.4" cy="353.0" r="6.85"/><circle cx="606.1" cy="352.9" r="6.85"/><circle cx="608.1" cy="352.2" r="6.85"/><circle cx="606.8" cy="353.0" r="6.85"/><circle cx="605.9" cy="353.2" r="6.85"/><circle cx="607.6" cy="352.8" r="6.85"/><circle cx="606.8" cy="352.7" r="6.85"/><circle cx="606.9" cy="353.4" r="6.85"/><circle cx="607.1" cy="353.3" r="6.85"/><circle cx="607.6" cy="353.0" r="6.85"/><circle cx="609.8" cy="347.8" r="6.85"/><circle cx="608.2" cy="349.8" r="6.85"/><circle cx="608.7" cy="349.2" r="6.85"/><circle cx="609.4" cy="348.9" r="6.85"/><circle cx="608.3" cy="349.1" r="6.85"/><circle cx="609.4" cy="347.2" r="6.85"/><circle cx="608.5" cy="348.4" r="6.85"/><circle cx="608.5" cy="348.0" r="6.85"/><circle cx="608.9" cy="349.3" r="6.85"/><circle cx="608.5" cy="349.6" r="6.85"/><circle cx="608.8" cy="348.3" r="6.85"/><circle cx="610.9" cy="347.9" r="6.85"/><circle cx="611.1" cy="347.5" r="6.85"/><circle cx="612.5" cy="346.9" r="6.85"/><circle cx="610.0" cy="347.5" r="6.85"/><circle cx="611.1" cy="347.3" r="6.85"/><circle cx="612.4" cy="346.9" r="6.85"/><circle cx="611.8" cy="347.7" r="6.85"/><circle cx="611.4" cy="347.3" r="6.85"/><circle cx="611.2" cy="347.4" r="6.85"/><circle cx="611.8" cy="347.2" r="6.85"/><circle cx="614.8" cy="346.7" r="6.85"/><circle cx="615.3" cy="345.3" r="6.85"/><circle cx="615.0" cy="345.6" r="6.85"/><circle cx="615.0" cy="345.8" r="6.85"/><circle cx="615.3" cy="344.9" r="6.85"/><circle cx="615.4" cy="345.3" r="6.85"/><circle cx="615.2" cy="346.4" r="6.85"/><circle cx="615.4" cy="345.3" r="6.85"/><circle cx="615.6" cy="346.4" r="6.85"/><circle cx="615.5" cy="345.2" r="6.85"/><circle cx="615.7" cy="345.7" r="6.85"/><circle cx="616.9" cy="342.0" r="6.85"/><circle cx="616.4" cy="342.3" r="6.85"/><circle cx="616.2" cy="342.5" r="6.85"/><circle cx="616.2" cy="342.5" r="6.85"/><circle cx="617.2" cy="341.0" r="6.85"/><circle cx="616.3" cy="344.0" r="6.85"/><circle cx="616.1" cy="343.2" r="6.85"/><circle cx="616.3" cy="342.0" r="6.85"/><circle cx="616.6" cy="341.6" r="6.85"/><circle cx="616.8" cy="341.3" r="6.85"/><circle cx="616.1" cy="342.9" r="6.85"/><circle cx="617.5" cy="341.5" r="6.85"/><circle cx="618.9" cy="339.1" r="6.85"/><circle cx="619.6" cy="339.2" r="6.85"/><circle cx="618.8" cy="339.6" r="6.85"/><circle cx="618.5" cy="340.0" r="6.85"/><circle cx="619.5" cy="339.5" r="6.85"/><circle cx="619.0" cy="339.5" r="6.85"/><circle cx="618.2" cy="339.6" r="6.85"/><circle cx="618.9" cy="339.6" r="6.85"/><circle cx="618.8" cy="339.7" r="6.85"/><circle cx="621.8" cy="337.9" r="6.85"/><circle cx="621.3" cy="338.9" r="6.85"/><circle cx="621.6" cy="338.0" r="6.85"/><circle cx="621.2" cy="338.8" r="6.85"/><circle cx="621.0" cy="338.9" r="6.85"/><circle cx="621.6" cy="337.7" r="6.85"/><circle cx="621.9" cy="338.0" r="6.85"/><circle cx="622.0" cy="338.1" r="6.85"/><circle cx="622.1" cy="337.8" r="6.85"/><circle cx="623.4" cy="336.1" r="6.85"/><circle cx="623.0" cy="335.9" r="6.85"/><circle cx="623.0" cy="335.3" r="6.85"/><circle cx="622.9" cy="337.2" r="6.85"/><circle cx="622.8" cy="336.9" r="6.85"/><circle cx="624.7" cy="335.2" r="6.85"/><circle cx="622.1" cy="335.8" r="6.85"/><circle cx="621.5" cy="337.5" r="6.85"/><circle cx="622.6" cy="336.1" r="6.85"/><circle cx="623.3" cy="335.9" r="6.85"/><circle cx="625.1" cy="334.3" r="6.85"/><circle cx="625.3" cy="332.1" r="6.85"/><circle cx="625.3" cy="332.5" r="6.85"/><circle cx="625.1" cy="332.6" r="6.85"/><circle cx="625.2" cy="334.1" r="6.85"/><circle cx="625.9" cy="333.3" r="6.85"/><circle cx="624.4" cy="333.1" r="6.85"/><circle cx="625.9" cy="333.5" r="6.85"/><circle cx="625.3" cy="333.7" r="6.85"/><circle cx="625.0" cy="332.9" r="6.85"/><circle cx="626.3" cy="331.0" r="6.85"/><circle cx="626.3" cy="329.7" r="6.85"/><circle cx="625.8" cy="330.9" r="6.85"/><circle cx="626.4" cy="331.0" r="6.85"/><circle cx="626.3" cy="330.3" r="6.85"/><circle cx="625.9" cy="330.7" r="6.85"/><circle cx="626.4" cy="330.2" r="6.85"/><circle cx="625.3" cy="332.2" r="6.85"/><circle cx="626.6" cy="330.2" r="6.85"/><circle cx="626.9" cy="330.6" r="6.85"/><circle cx="625.4" cy="330.9" r="6.85"/><circle cx="628.5" cy="327.9" r="6.85"/><circle cx="628.4" cy="328.5" r="6.85"/><circle cx="628.4" cy="327.8" r="6.85"/><circle cx="628.2" cy="327.1" r="6.85"/><circle cx="628.7" cy="327.1" r="6.85"/><circle cx="629.4" cy="326.7" r="6.85"/><circle cx="629.2" cy="327.4" r="6.85"/><circle cx="627.9" cy="328.3" r="6.85"/><circle cx="628.8" cy="327.1" r="6.85"/><circle cx="627.9" cy="329.7" r="6.85"/><circle cx="629.1" cy="326.6" r="6.85"/><circle cx="632.3" cy="325.2" r="6.85"/><circle cx="631.7" cy="325.9" r="6.85"/><circle cx="631.9" cy="325.5" r="6.85"/><circle cx="631.1" cy="325.8" r="6.85"/><circle cx="631.1" cy="325.3" r="6.85"/><circle cx="631.0" cy="326.2" r="6.85"/><circle cx="631.1" cy="325.8" r="6.85"/><circle cx="631.6" cy="325.1" r="6.85"/><circle cx="631.5" cy="326.0" r="6.85"/><circle cx="632.6" cy="325.0" r="6.85"/><circle cx="630.3" cy="326.0" r="6.85"/><circle cx="632.6" cy="325.6" r="6.85"/><circle cx="631.3" cy="326.2" r="6.85"/><circle cx="633.6" cy="323.6" r="6.85"/><circle cx="634.3" cy="321.6" r="6.85"/><circle cx="633.4" cy="321.9" r="6.85"/><circle cx="633.7" cy="322.1" r="6.85"/><circle cx="633.6" cy="322.0" r="6.85"/><circle cx="633.3" cy="322.5" r="6.85"/><circle cx="633.7" cy="321.7" r="6.85"/><circle cx="633.5" cy="322.7" r="6.85"/><circle cx="634.0" cy="321.6" r="6.85"/><circle cx="634.2" cy="321.4" r="6.85"/><circle cx="633.3" cy="323.1" r="6.85"/><circle cx="633.9" cy="322.8" r="6.85"/><circle cx="634.8" cy="319.5" r="6.85"/><circle cx="635.6" cy="319.6" r="6.85"/><circle cx="635.4" cy="319.8" r="6.85"/><circle cx="636.0" cy="319.5" r="6.85"/><circle cx="636.6" cy="319.1" r="6.85"/><circle cx="636.0" cy="319.5" r="6.85"/><circle cx="635.6" cy="320.4" r="6.85"/><circle cx="636.3" cy="319.6" r="6.85"/><circle cx="636.6" cy="318.8" r="6.85"/><circle cx="636.1" cy="319.4" r="6.85"/><circle cx="635.3" cy="319.7" r="6.85"/><circle cx="638.0" cy="317.4" r="6.85"/><circle cx="638.5" cy="315.0" r="6.85"/><circle cx="638.0" cy="315.4" r="6.85"/><circle cx="638.5" cy="316.5" r="6.85"/><circle cx="637.7" cy="317.3" r="6.85"/><circle cx="638.3" cy="315.6" r="6.85"/><circle cx="637.1" cy="317.0" r="6.85"/><circle cx="638.3" cy="315.4" r="6.85"/><circle cx="637.2" cy="317.0" r="6.85"/><circle cx="638.4" cy="316.4" r="6.85"/><circle cx="638.3" cy="313.6" r="6.85"/><circle cx="639.0" cy="313.1" r="6.85"/><circle cx="638.4" cy="314.2" r="6.85"/><circle cx="638.9" cy="313.3" r="6.85"/><circle cx="638.6" cy="313.4" r="6.85"/><circle cx="638.0" cy="314.6" r="6.85"/><circle cx="639.0" cy="313.3" r="6.85"/><circle cx="639.1" cy="313.0" r="6.85"/><circle cx="638.8" cy="315.2" r="6.85"/><circle cx="639.1" cy="313.3" r="6.85"/><circle cx="641.1" cy="312.1" r="6.85"/><circle cx="640.9" cy="311.6" r="6.85"/><circle cx="642.0" cy="310.7" r="6.85"/><circle cx="641.6" cy="312.0" r="6.85"/><circle cx="640.9" cy="311.7" r="6.85"/><circle cx="640.9" cy="313.1" r="6.85"/><circle cx="640.6" cy="312.8" r="6.85"/><circle cx="640.1" cy="313.0" r="6.85"/><circle cx="641.2" cy="312.0" r="6.85"/><circle cx="641.8" cy="312.3" r="6.85"/><circle cx="641.6" cy="311.2" r="6.85"/><circle cx="645.4" cy="310.1" r="6.85"/><circle cx="645.4" cy="309.6" r="6.85"/><circle cx="643.8" cy="309.3" r="6.85"/><circle cx="644.0" cy="309.8" r="6.85"/><circle cx="643.6" cy="309.8" r="6.85"/><circle cx="644.6" cy="310.4" r="6.85"/><circle cx="644.5" cy="310.1" r="6.85"/><circle cx="643.8" cy="309.6" r="6.85"/><circle cx="642.5" cy="310.9" r="6.85"/><circle cx="644.5" cy="310.1" r="6.85"/><circle cx="645.1" cy="308.3" r="6.85"/><circle cx="644.0" cy="309.7" r="6.85"/><circle cx="646.4" cy="307.3" r="6.85"/><circle cx="646.9" cy="306.8" r="6.85"/><circle cx="646.8" cy="306.9" r="6.85"/><circle cx="648.1" cy="306.9" r="6.85"/><circle cx="647.0" cy="307.2" r="6.85"/><circle cx="646.2" cy="307.5" r="6.85"/><circle cx="646.0" cy="307.0" r="6.85"/><circle cx="646.2" cy="308.2" r="6.85"/><circle cx="646.7" cy="307.2" r="6.85"/><circle cx="648.1" cy="307.0" r="6.85"/><circle cx="649.4" cy="305.9" r="6.85"/><circle cx="648.7" cy="305.9" r="6.85"/><circle cx="648.7" cy="305.9" r="6.85"/><circle cx="648.1" cy="305.8" r="6.85"/><circle cx="649.1" cy="304.8" r="6.85"/><circle cx="648.3" cy="305.4" r="6.85"/><circle cx="649.5" cy="304.6" r="6.85"/><circle cx="649.0" cy="304.7" r="6.85"/><circle cx="649.3" cy="306.3" r="6.85"/><circle cx="650.5" cy="304.3" r="6.85"/><circle cx="651.3" cy="303.7" r="6.85"/><circle cx="651.8" cy="303.6" r="6.85"/><circle cx="652.1" cy="302.9" r="6.85"/><circle cx="649.9" cy="303.6" r="6.85"/><circle cx="651.1" cy="304.6" r="6.85"/><circle cx="651.7" cy="304.3" r="6.85"/><circle cx="652.6" cy="303.4" r="6.85"/><circle cx="651.9" cy="303.9" r="6.85"/><circle cx="651.6" cy="304.1" r="6.85"/><circle cx="652.1" cy="303.7" r="6.85"/><circle cx="650.7" cy="304.2" r="6.85"/><circle cx="651.4" cy="304.5" r="6.85"/><circle cx="650.9" cy="304.4" r="6.85"/><circle cx="652.9" cy="299.7" r="6.85"/><circle cx="653.3" cy="299.8" r="6.85"/><circle cx="652.6" cy="299.3" r="6.85"/><circle cx="656.2" cy="299.6" r="6.85"/><circle cx="652.9" cy="301.0" r="6.85"/><circle cx="653.4" cy="299.9" r="6.85"/><circle cx="653.5" cy="299.5" r="6.85"/><circle cx="653.0" cy="299.4" r="6.85"/><circle cx="654.3" cy="299.6" r="6.85"/><circle cx="652.6" cy="300.7" r="6.85"/><circle cx="653.5" cy="299.8" r="6.85"/><circle cx="652.6" cy="300.8" r="6.85"/><circle cx="657.5" cy="298.9" r="6.85"/><circle cx="657.1" cy="298.5" r="6.85"/><circle cx="657.3" cy="299.4" r="6.85"/><circle cx="656.7" cy="299.4" r="6.85"/><circle cx="655.9" cy="299.4" r="6.85"/><circle cx="656.2" cy="299.1" r="6.85"/><circle cx="658.0" cy="298.5" r="6.85"/><circle cx="657.3" cy="298.5" r="6.85"/><circle cx="657.7" cy="298.1" r="6.85"/><circle cx="656.1" cy="299.1" r="6.85"/><circle cx="657.9" cy="298.2" r="6.85"/><circle cx="657.8" cy="297.2" r="6.85"/><circle cx="655.8" cy="299.5" r="6.85"/><circle cx="660.2" cy="294.9" r="6.85"/><circle cx="661.3" cy="295.3" r="6.85"/><circle cx="659.6" cy="295.6" r="6.85"/><circle cx="660.4" cy="295.3" r="6.85"/><circle cx="659.7" cy="295.9" r="6.85"/><circle cx="660.7" cy="295.2" r="6.85"/><circle cx="659.5" cy="295.3" r="6.85"/><circle cx="659.4" cy="295.8" r="6.85"/><circle cx="659.8" cy="295.7" r="6.85"/><circle cx="660.0" cy="295.4" r="6.85"/><circle cx="659.7" cy="295.4" r="6.85"/><circle cx="659.0" cy="295.5" r="6.85"/><circle cx="663.8" cy="293.0" r="6.85"/><circle cx="663.1" cy="294.0" r="6.85"/><circle cx="663.3" cy="294.5" r="6.85"/><circle cx="663.0" cy="294.0" r="6.85"/><circle cx="663.3" cy="292.9" r="6.85"/><circle cx="661.9" cy="294.8" r="6.85"/><circle cx="663.9" cy="294.1" r="6.85"/><circle cx="663.4" cy="293.6" r="6.85"/><circle cx="663.0" cy="292.4" r="6.85"/><circle cx="663.5" cy="294.0" r="6.85"/><circle cx="663.2" cy="293.9" r="6.85"/><circle cx="663.8" cy="293.4" r="6.85"/><circle cx="663.8" cy="293.3" r="6.85"/><circle cx="664.1" cy="292.4" r="6.85"/><circle cx="665.2" cy="289.9" r="6.85"/><circle cx="665.0" cy="290.9" r="6.85"/><circle cx="664.4" cy="291.0" r="6.85"/><circle cx="664.3" cy="290.4" r="6.85"/><circle cx="664.4" cy="290.3" r="6.85"/><circle cx="665.8" cy="289.9" r="6.85"/><circle cx="665.4" cy="290.3" r="6.85"/><circle cx="665.8" cy="289.8" r="6.85"/><circle cx="665.4" cy="289.7" r="6.85"/><circle cx="665.1" cy="291.1" r="6.85"/><circle cx="667.7" cy="289.3" r="6.85"/><circle cx="667.9" cy="289.4" r="6.85"/><circle cx="667.9" cy="288.8" r="6.85"/><circle cx="667.4" cy="288.8" r="6.85"/><circle cx="668.0" cy="288.2" r="6.85"/><circle cx="668.5" cy="288.3" r="6.85"/><circle cx="669.1" cy="287.5" r="6.85"/><circle cx="668.9" cy="288.1" r="6.85"/><circle cx="667.9" cy="288.0" r="6.85"/><circle cx="668.4" cy="288.7" r="6.85"/><circle cx="667.8" cy="289.1" r="6.85"/><circle cx="670.2" cy="287.2" r="6.85"/><circle cx="669.6" cy="286.4" r="6.85"/><circle cx="671.1" cy="285.6" r="6.85"/><circle cx="668.1" cy="287.9" r="6.85"/><circle cx="671.2" cy="286.2" r="6.85"/><circle cx="670.6" cy="286.6" r="6.85"/><circle cx="669.6" cy="286.5" r="6.85"/><circle cx="671.1" cy="286.9" r="6.85"/><circle cx="669.8" cy="286.6" r="6.85"/><circle cx="670.9" cy="286.4" r="6.85"/><circle cx="673.9" cy="284.5" r="6.85"/><circle cx="674.3" cy="285.6" r="6.85"/><circle cx="673.2" cy="284.2" r="6.85"/><circle cx="673.7" cy="286.5" r="6.85"/><circle cx="673.4" cy="285.3" r="6.85"/><circle cx="674.5" cy="285.4" r="6.85"/><circle cx="673.8" cy="286.3" r="6.85"/><circle cx="674.3" cy="285.5" r="6.85"/><circle cx="673.3" cy="286.2" r="6.85"/><circle cx="674.5" cy="285.7" r="6.85"/><circle cx="674.2" cy="286.4" r="6.85"/><circle cx="672.7" cy="285.7" r="6.85"/><circle cx="672.9" cy="285.3" r="6.85"/><circle cx="675.7" cy="281.9" r="6.85"/><circle cx="675.0" cy="281.3" r="6.85"/><circle cx="675.4" cy="281.2" r="6.85"/><circle cx="674.6" cy="282.0" r="6.85"/><circle cx="675.9" cy="281.8" r="6.85"/><circle cx="675.1" cy="282.3" r="6.85"/><circle cx="674.9" cy="282.4" r="6.85"/><circle cx="675.6" cy="282.8" r="6.85"/><circle cx="674.5" cy="282.0" r="6.85"/><circle cx="674.4" cy="283.1" r="6.85"/><circle cx="678.7" cy="281.2" r="6.85"/><circle cx="678.5" cy="281.8" r="6.85"/><circle cx="678.1" cy="281.4" r="6.85"/><circle cx="678.3" cy="280.5" r="6.85"/><circle cx="677.9" cy="280.6" r="6.85"/><circle cx="678.3" cy="281.4" r="6.85"/><circle cx="678.7" cy="281.3" r="6.85"/><circle cx="679.3" cy="280.6" r="6.85"/><circle cx="676.8" cy="282.5" r="6.85"/><circle cx="680.1" cy="279.9" r="6.85"/><circle cx="680.7" cy="279.3" r="6.85"/><circle cx="680.7" cy="279.1" r="6.85"/><circle cx="680.9" cy="279.1" r="6.85"/><circle cx="680.3" cy="279.8" r="6.85"/><circle cx="680.5" cy="278.6" r="6.85"/><circle cx="680.0" cy="279.9" r="6.85"/><circle cx="680.7" cy="279.0" r="6.85"/><circle cx="680.4" cy="279.3" r="6.85"/><circle cx="680.6" cy="278.8" r="6.85"/><circle cx="679.6" cy="280.7" r="6.85"/><circle cx="682.6" cy="277.8" r="6.85"/><circle cx="682.7" cy="277.1" r="6.85"/><circle cx="683.6" cy="277.2" r="6.85"/><circle cx="683.3" cy="276.1" r="6.85"/><circle cx="683.4" cy="277.4" r="6.85"/><circle cx="683.6" cy="277.4" r="6.85"/><circle cx="682.6" cy="277.5" r="6.85"/><circle cx="683.0" cy="276.5" r="6.85"/><circle cx="683.3" cy="277.3" r="6.85"/><circle cx="683.0" cy="278.0" r="6.85"/><circle cx="682.4" cy="278.1" r="6.85"/><circle cx="683.2" cy="278.7" r="6.85"/><circle cx="685.9" cy="275.2" r="6.85"/><circle cx="685.3" cy="275.7" r="6.85"/><circle cx="684.0" cy="276.1" r="6.85"/><circle cx="684.7" cy="275.8" r="6.85"/><circle cx="685.8" cy="275.5" r="6.85"/><circle cx="684.6" cy="276.1" r="6.85"/><circle cx="685.4" cy="275.6" r="6.85"/><circle cx="685.5" cy="275.6" r="6.85"/><circle cx="685.0" cy="275.2" r="6.85"/><circle cx="685.9" cy="275.9" r="6.85"/><circle cx="687.0" cy="274.0" r="6.85"/><circle cx="688.5" cy="273.7" r="6.85"/><circle cx="687.3" cy="273.8" r="6.85"/><circle cx="687.6" cy="273.9" r="6.85"/><circle cx="688.5" cy="273.4" r="6.85"/><circle cx="688.1" cy="274.6" r="6.85"/><circle cx="687.6" cy="274.5" r="6.85"/><circle cx="687.8" cy="274.0" r="6.85"/><circle cx="688.1" cy="273.8" r="6.85"/><circle cx="687.2" cy="274.9" r="6.85"/><circle cx="691.5" cy="272.7" r="6.85"/><circle cx="690.5" cy="273.3" r="6.85"/><circle cx="690.3" cy="273.3" r="6.85"/><circle cx="690.0" cy="273.1" r="6.85"/><circle cx="692.0" cy="272.7" r="6.85"/><circle cx="690.2" cy="273.1" r="6.85"/><circle cx="692.5" cy="272.4" r="6.85"/><circle cx="690.4" cy="273.3" r="6.85"/><circle cx="691.6" cy="272.8" r="6.85"/><circle cx="688.9" cy="273.6" r="6.85"/><circle cx="691.3" cy="273.2" r="6.85"/><circle cx="691.2" cy="273.1" r="6.85"/><circle cx="695.0" cy="271.2" r="6.85"/><circle cx="694.8" cy="270.7" r="6.85"/><circle cx="693.9" cy="270.4" r="6.85"/><circle cx="695.4" cy="269.9" r="6.85"/><circle cx="695.6" cy="270.4" r="6.85"/><circle cx="693.8" cy="271.1" r="6.85"/><circle cx="694.7" cy="270.9" r="6.85"/><circle cx="692.9" cy="271.9" r="6.85"/><circle cx="693.4" cy="271.0" r="6.85"/><circle cx="695.3" cy="270.5" r="6.85"/><circle cx="693.9" cy="270.7" r="6.85"/><circle cx="695.6" cy="267.5" r="6.85"/><circle cx="696.0" cy="268.5" r="6.85"/><circle cx="695.8" cy="267.4" r="6.85"/><circle cx="695.9" cy="268.7" r="6.85"/><circle cx="695.3" cy="267.8" r="6.85"/><circle cx="695.7" cy="267.4" r="6.85"/><circle cx="695.8" cy="266.6" r="6.85"/><circle cx="695.9" cy="267.7" r="6.85"/><circle cx="695.6" cy="269.5" r="6.85"/><circle cx="695.6" cy="267.9" r="6.85"/><circle cx="697.0" cy="265.8" r="6.85"/><circle cx="696.6" cy="265.9" r="6.85"/><circle cx="695.9" cy="266.5" r="6.85"/><circle cx="696.0" cy="265.7" r="6.85"/><circle cx="696.8" cy="265.9" r="6.85"/><circle cx="697.0" cy="265.9" r="6.85"/><circle cx="696.0" cy="266.0" r="6.85"/><circle cx="697.1" cy="265.8" r="6.85"/><circle cx="696.1" cy="265.3" r="6.85"/><circle cx="699.0" cy="264.2" r="6.85"/><circle cx="699.0" cy="264.1" r="6.85"/><circle cx="699.5" cy="264.6" r="6.85"/><circle cx="698.5" cy="265.4" r="6.85"/><circle cx="699.6" cy="263.8" r="6.85"/><circle cx="699.2" cy="263.4" r="6.85"/><circle cx="700.3" cy="262.7" r="6.85"/><circle cx="697.9" cy="265.5" r="6.85"/><circle cx="698.4" cy="264.3" r="6.85"/><circle cx="698.4" cy="264.4" r="6.85"/><circle cx="702.5" cy="261.9" r="6.85"/><circle cx="700.9" cy="262.1" r="6.85"/><circle cx="702.1" cy="261.5" r="6.85"/><circle cx="702.8" cy="261.5" r="6.85"/><circle cx="701.6" cy="262.2" r="6.85"/><circle cx="702.1" cy="262.1" r="6.85"/><circle cx="702.7" cy="261.1" r="6.85"/><circle cx="702.6" cy="261.2" r="6.85"/><circle cx="700.3" cy="262.5" r="6.85"/><circle cx="703.2" cy="260.5" r="6.85"/><circle cx="701.7" cy="262.4" r="6.85"/><circle cx="702.0" cy="261.8" r="6.85"/><circle cx="702.8" cy="260.2" r="6.85"/><circle cx="702.8" cy="259.7" r="6.85"/><circle cx="703.0" cy="260.0" r="6.85"/><circle cx="702.9" cy="259.7" r="6.85"/><circle cx="702.3" cy="259.6" r="6.85"/><circle cx="702.2" cy="260.0" r="6.85"/><circle cx="703.1" cy="260.2" r="6.85"/><circle cx="702.6" cy="259.8" r="6.85"/><circle cx="702.6" cy="261.3" r="6.85"/><circle cx="703.1" cy="259.5" r="6.85"/><circle cx="704.5" cy="257.4" r="6.85"/><circle cx="704.6" cy="255.9" r="6.85"/><circle cx="704.7" cy="255.6" r="6.85"/><circle cx="705.1" cy="256.5" r="6.85"/><circle cx="704.8" cy="255.8" r="6.85"/><circle cx="704.2" cy="256.5" r="6.85"/><circle cx="705.4" cy="256.9" r="6.85"/><circle cx="704.1" cy="258.4" r="6.85"/><circle cx="704.2" cy="257.0" r="6.85"/><circle cx="704.0" cy="256.5" r="6.85"/><circle cx="704.9" cy="258.2" r="6.85"/><circle cx="704.8" cy="256.2" r="6.85"/><circle cx="706.9" cy="252.8" r="6.85"/><circle cx="707.0" cy="253.6" r="6.85"/><circle cx="706.8" cy="253.0" r="6.85"/><circle cx="706.7" cy="253.7" r="6.85"/><circle cx="706.8" cy="254.8" r="6.85"/><circle cx="706.6" cy="254.1" r="6.85"/><circle cx="706.7" cy="253.7" r="6.85"/><circle cx="706.2" cy="254.4" r="6.85"/><circle cx="706.8" cy="253.4" r="6.85"/><circle cx="707.0" cy="253.8" r="6.85"/><circle cx="708.3" cy="251.9" r="6.85"/><circle cx="708.9" cy="251.5" r="6.85"/><circle cx="707.8" cy="252.1" r="6.85"/><circle cx="708.9" cy="251.2" r="6.85"/><circle cx="709.8" cy="251.8" r="6.85"/><circle cx="708.1" cy="252.3" r="6.85"/><circle cx="707.9" cy="251.7" r="6.85"/><circle cx="709.9" cy="251.9" r="6.85"/><circle cx="710.4" cy="251.4" r="6.85"/><circle cx="708.2" cy="251.5" r="6.85"/><circle cx="708.0" cy="251.9" r="6.85"/><circle cx="710.9" cy="251.0" r="6.85"/><circle cx="710.1" cy="249.3" r="6.85"/><circle cx="711.1" cy="249.2" r="6.85"/><circle cx="711.4" cy="248.7" r="6.85"/><circle cx="711.3" cy="248.3" r="6.85"/><circle cx="710.5" cy="250.0" r="6.85"/><circle cx="710.3" cy="249.9" r="6.85"/><circle cx="710.5" cy="250.7" r="6.85"/><circle cx="711.6" cy="248.8" r="6.85"/><circle cx="711.1" cy="249.3" r="6.85"/><circle cx="710.4" cy="248.8" r="6.85"/><circle cx="709.5" cy="251.2" r="6.85"/><circle cx="713.8" cy="246.6" r="6.85"/><circle cx="714.1" cy="247.4" r="6.85"/><circle cx="712.9" cy="246.5" r="6.85"/><circle cx="713.2" cy="247.0" r="6.85"/><circle cx="712.8" cy="247.4" r="6.85"/><circle cx="713.0" cy="247.4" r="6.85"/><circle cx="712.3" cy="247.3" r="6.85"/><circle cx="712.1" cy="247.2" r="6.85"/><circle cx="712.9" cy="246.7" r="6.85"/><circle cx="712.0" cy="247.4" r="6.85"/><circle cx="714.9" cy="244.6" r="6.85"/><circle cx="715.5" cy="244.8" r="6.85"/><circle cx="714.8" cy="245.4" r="6.85"/><circle cx="713.8" cy="245.8" r="6.85"/><circle cx="713.9" cy="245.7" r="6.85"/><circle cx="714.4" cy="245.0" r="6.85"/><circle cx="715.5" cy="244.7" r="6.85"/><circle cx="714.4" cy="244.9" r="6.85"/><circle cx="717.0" cy="243.1" r="6.85"/><circle cx="716.3" cy="244.4" r="6.85"/><circle cx="717.1" cy="243.4" r="6.85"/><circle cx="718.2" cy="243.9" r="6.85"/><circle cx="716.9" cy="243.9" r="6.85"/><circle cx="716.9" cy="243.8" r="6.85"/><circle cx="717.0" cy="243.9" r="6.85"/><circle cx="717.4" cy="243.7" r="6.85"/><circle cx="718.6" cy="243.6" r="6.85"/><circle cx="717.6" cy="243.6" r="6.85"/><circle cx="718.4" cy="243.6" r="6.85"/><circle cx="720.8" cy="242.7" r="6.85"/><circle cx="720.1" cy="243.3" r="6.85"/><circle cx="720.6" cy="243.0" r="6.85"/><circle cx="720.5" cy="243.0" r="6.85"/><circle cx="720.8" cy="242.1" r="6.85"/><circle cx="719.5" cy="242.4" r="6.85"/><circle cx="720.7" cy="241.3" r="6.85"/><circle cx="720.6" cy="242.0" r="6.85"/><circle cx="721.5" cy="241.7" r="6.85"/><circle cx="720.4" cy="242.3" r="6.85"/><circle cx="722.4" cy="240.4" r="6.85"/><circle cx="722.4" cy="241.0" r="6.85"/><circle cx="720.8" cy="240.8" r="6.85"/><circle cx="723.4" cy="240.3" r="6.85"/><circle cx="722.2" cy="240.7" r="6.85"/><circle cx="722.1" cy="241.4" r="6.85"/><circle cx="723.6" cy="240.4" r="6.85"/><circle cx="721.6" cy="241.7" r="6.85"/><circle cx="722.0" cy="241.2" r="6.85"/><circle cx="722.5" cy="240.7" r="6.85"/><circle cx="724.7" cy="239.0" r="6.85"/><circle cx="724.4" cy="238.9" r="6.85"/><circle cx="724.9" cy="238.1" r="6.85"/><circle cx="725.1" cy="237.9" r="6.85"/><circle cx="725.4" cy="238.6" r="6.85"/><circle cx="724.8" cy="237.9" r="6.85"/><circle cx="725.3" cy="238.7" r="6.85"/><circle cx="724.9" cy="238.6" r="6.85"/><circle cx="725.8" cy="237.7" r="6.85"/><circle cx="723.5" cy="239.5" r="6.85"/><circle cx="727.0" cy="236.6" r="6.85"/><circle cx="726.6" cy="236.2" r="6.85"/><circle cx="725.4" cy="237.4" r="6.85"/><circle cx="725.1" cy="237.5" r="6.85"/><circle cx="727.6" cy="237.8" r="6.85"/><circle cx="726.5" cy="237.0" r="6.85"/><circle cx="727.9" cy="236.3" r="6.85"/><circle cx="727.0" cy="236.3" r="6.85"/><circle cx="727.8" cy="236.6" r="6.85"/><circle cx="726.8" cy="236.9" r="6.85"/><circle cx="730.4" cy="235.4" r="6.85"/><circle cx="729.7" cy="236.2" r="6.85"/><circle cx="729.0" cy="236.1" r="6.85"/><circle cx="730.1" cy="235.3" r="6.85"/><circle cx="729.4" cy="236.0" r="6.85"/><circle cx="730.3" cy="235.3" r="6.85"/><circle cx="729.7" cy="235.4" r="6.85"/><circle cx="730.1" cy="235.4" r="6.85"/><circle cx="730.8" cy="233.5" r="6.85"/><circle cx="731.9" cy="233.4" r="6.85"/><circle cx="730.7" cy="234.2" r="6.85"/><circle cx="731.8" cy="233.6" r="6.85"/><circle cx="730.7" cy="233.9" r="6.85"/><circle cx="731.7" cy="234.0" r="6.85"/><circle cx="731.8" cy="233.3" r="6.85"/><circle cx="731.3" cy="233.5" r="6.85"/><circle cx="730.5" cy="234.0" r="6.85"/><circle cx="733.4" cy="231.6" r="6.85"/><circle cx="733.5" cy="231.8" r="6.85"/><circle cx="733.3" cy="231.6" r="6.85"/><circle cx="733.3" cy="231.6" r="6.85"/><circle cx="734.9" cy="231.9" r="6.85"/><circle cx="734.0" cy="231.9" r="6.85"/><circle cx="733.2" cy="232.1" r="6.85"/><circle cx="734.7" cy="232.0" r="6.85"/><circle cx="733.4" cy="231.8" r="6.85"/><circle cx="733.7" cy="232.7" r="6.85"/><circle cx="733.9" cy="231.7" r="6.85"/><circle cx="733.9" cy="231.9" r="6.85"/><circle cx="737.4" cy="230.1" r="6.85"/><circle cx="736.5" cy="230.3" r="6.85"/><circle cx="737.0" cy="229.7" r="6.85"/><circle cx="737.3" cy="229.6" r="6.85"/><circle cx="737.2" cy="229.4" r="6.85"/><circle cx="737.2" cy="230.0" r="6.85"/><circle cx="737.4" cy="229.7" r="6.85"/><circle cx="737.6" cy="229.9" r="6.85"/><circle cx="737.3" cy="230.3" r="6.85"/><circle cx="737.3" cy="230.0" r="6.85"/><circle cx="736.2" cy="230.0" r="6.85"/><circle cx="738.5" cy="229.7" r="6.85"/><circle cx="736.0" cy="230.4" r="6.85"/><circle cx="740.1" cy="227.9" r="6.85"/><circle cx="739.8" cy="228.0" r="6.85"/><circle cx="740.0" cy="227.4" r="6.85"/><circle cx="740.4" cy="226.7" r="6.85"/><circle cx="740.1" cy="228.8" r="6.85"/><circle cx="740.5" cy="226.6" r="6.85"/><circle cx="739.5" cy="228.6" r="6.85"/><circle cx="739.4" cy="229.1" r="6.85"/><circle cx="741.2" cy="227.8" r="6.85"/><circle cx="739.6" cy="229.0" r="6.85"/><circle cx="740.5" cy="227.1" r="6.85"/><circle cx="742.7" cy="225.1" r="6.85"/><circle cx="741.2" cy="226.2" r="6.85"/><circle cx="741.0" cy="226.0" r="6.85"/><circle cx="741.4" cy="225.1" r="6.85"/><circle cx="742.4" cy="225.2" r="6.85"/><circle cx="741.2" cy="226.3" r="6.85"/><circle cx="741.2" cy="225.6" r="6.85"/><circle cx="742.1" cy="225.3" r="6.85"/><circle cx="741.5" cy="225.4" r="6.85"/><circle cx="745.1" cy="224.4" r="6.85"/><circle cx="744.5" cy="225.2" r="6.85"/><circle cx="745.5" cy="225.0" r="6.85"/><circle cx="745.9" cy="224.3" r="6.85"/><circle cx="744.6" cy="224.9" r="6.85"/><circle cx="742.6" cy="225.8" r="6.85"/><circle cx="744.0" cy="225.0" r="6.85"/><circle cx="745.4" cy="225.0" r="6.85"/><circle cx="744.2" cy="225.7" r="6.85"/><circle cx="745.9" cy="224.4" r="6.85"/><circle cx="747.4" cy="223.7" r="6.85"/><circle cx="747.1" cy="223.2" r="6.85"/><circle cx="747.9" cy="222.2" r="6.85"/><circle cx="749.3" cy="223.2" r="6.85"/><circle cx="748.0" cy="223.2" r="6.85"/><circle cx="747.5" cy="223.5" r="6.85"/><circle cx="747.9" cy="223.0" r="6.85"/><circle cx="747.9" cy="222.7" r="6.85"/><circle cx="748.4" cy="222.3" r="6.85"/><circle cx="747.7" cy="222.8" r="6.85"/><circle cx="747.8" cy="223.0" r="6.85"/><circle cx="748.2" cy="222.6" r="6.85"/><circle cx="746.3" cy="224.8" r="6.85"/><circle cx="751.3" cy="220.1" r="6.85"/><circle cx="752.0" cy="219.7" r="6.85"/><circle cx="751.3" cy="220.4" r="6.85"/><circle cx="750.4" cy="221.1" r="6.85"/><circle cx="751.1" cy="222.0" r="6.85"/><circle cx="751.9" cy="220.2" r="6.85"/><circle cx="750.7" cy="220.2" r="6.85"/><circle cx="750.7" cy="220.3" r="6.85"/><circle cx="751.1" cy="220.7" r="6.85"/><circle cx="750.6" cy="220.5" r="6.85"/><circle cx="752.9" cy="219.0" r="6.85"/><circle cx="752.8" cy="218.4" r="6.85"/><circle cx="752.2" cy="218.7" r="6.85"/><circle cx="753.2" cy="216.9" r="6.85"/><circle cx="753.0" cy="218.5" r="6.85"/><circle cx="752.9" cy="218.6" r="6.85"/><circle cx="753.5" cy="218.6" r="6.85"/><circle cx="753.3" cy="217.7" r="6.85"/><circle cx="753.6" cy="218.4" r="6.85"/><circle cx="754.9" cy="215.8" r="6.85"/><circle cx="753.1" cy="215.5" r="6.85"/><circle cx="756.0" cy="215.7" r="6.85"/><circle cx="754.7" cy="216.2" r="6.85"/><circle cx="753.7" cy="216.7" r="6.85"/><circle cx="755.1" cy="215.7" r="6.85"/><circle cx="754.5" cy="216.2" r="6.85"/><circle cx="754.4" cy="215.5" r="6.85"/><circle cx="754.1" cy="216.3" r="6.85"/><circle cx="757.2" cy="215.4" r="6.85"/><circle cx="758.6" cy="215.4" r="6.85"/><circle cx="757.5" cy="215.1" r="6.85"/><circle cx="756.2" cy="215.3" r="6.85"/><circle cx="756.8" cy="215.0" r="6.85"/><circle cx="757.5" cy="216.0" r="6.85"/><circle cx="757.7" cy="215.4" r="6.85"/><circle cx="756.9" cy="215.0" r="6.85"/><circle cx="757.8" cy="215.1" r="6.85"/><circle cx="759.8" cy="212.8" r="6.85"/><circle cx="759.3" cy="213.0" r="6.85"/><circle cx="760.0" cy="212.8" r="6.85"/><circle cx="758.8" cy="212.5" r="6.85"/><circle cx="758.7" cy="212.9" r="6.85"/><circle cx="759.3" cy="212.2" r="6.85"/><circle cx="758.8" cy="213.0" r="6.85"/><circle cx="759.1" cy="212.9" r="6.85"/><circle cx="759.3" cy="213.1" r="6.85"/><circle cx="759.0" cy="212.8" r="6.85"/><circle cx="761.5" cy="210.6" r="6.85"/><circle cx="761.7" cy="210.9" r="6.85"/><circle cx="761.4" cy="211.7" r="6.85"/><circle cx="762.0" cy="212.2" r="6.85"/><circle cx="761.6" cy="211.6" r="6.85"/><circle cx="762.3" cy="209.9" r="6.85"/><circle cx="760.7" cy="211.8" r="6.85"/><circle cx="761.6" cy="211.1" r="6.85"/><circle cx="761.6" cy="210.6" r="6.85"/><circle cx="761.0" cy="211.9" r="6.85"/><circle cx="764.7" cy="210.0" r="6.85"/><circle cx="765.2" cy="209.2" r="6.85"/><circle cx="764.1" cy="208.8" r="6.85"/><circle cx="765.3" cy="208.4" r="6.85"/><circle cx="765.0" cy="208.8" r="6.85"/><circle cx="764.6" cy="209.1" r="6.85"/><circle cx="764.6" cy="209.1" r="6.85"/><circle cx="764.9" cy="208.9" r="6.85"/><circle cx="765.0" cy="209.2" r="6.85"/><circle cx="765.0" cy="209.5" r="6.85"/><circle cx="765.0" cy="208.4" r="6.85"/><circle cx="765.2" cy="206.3" r="6.85"/><circle cx="766.2" cy="205.6" r="6.85"/><circle cx="766.1" cy="205.2" r="6.85"/><circle cx="765.5" cy="206.0" r="6.85"/><circle cx="765.7" cy="205.5" r="6.85"/><circle cx="764.7" cy="205.6" r="6.85"/><circle cx="766.7" cy="203.8" r="6.85"/><circle cx="765.8" cy="206.4" r="6.85"/><circle cx="766.3" cy="205.6" r="6.85"/><circle cx="767.9" cy="204.0" r="6.85"/><circle cx="767.4" cy="204.0" r="6.85"/><circle cx="768.2" cy="203.4" r="6.85"/><circle cx="768.2" cy="203.8" r="6.85"/><circle cx="768.4" cy="203.5" r="6.85"/><circle cx="768.4" cy="203.0" r="6.85"/><circle cx="769.2" cy="202.6" r="6.85"/><circle cx="768.4" cy="202.1" r="6.85"/><circle cx="769.2" cy="202.1" r="6.85"/><circle cx="769.7" cy="200.2" r="6.85"/><circle cx="769.6" cy="199.0" r="6.85"/><circle cx="770.0" cy="199.1" r="6.85"/><circle cx="769.3" cy="200.5" r="6.85"/><circle cx="769.0" cy="201.4" r="6.85"/><circle cx="769.1" cy="200.6" r="6.85"/><circle cx="770.1" cy="198.3" r="6.85"/><circle cx="769.7" cy="200.7" r="6.85"/><circle cx="771.0" cy="197.4" r="6.85"/><circle cx="771.7" cy="196.8" r="6.85"/><circle cx="770.8" cy="197.7" r="6.85"/><circle cx="770.3" cy="198.0" r="6.85"/><circle cx="771.0" cy="197.3" r="6.85"/><circle cx="770.7" cy="197.6" r="6.85"/><circle cx="772.0" cy="197.0" r="6.85"/><circle cx="771.5" cy="197.2" r="6.85"/><circle cx="772.1" cy="195.2" r="6.85"/><circle cx="771.4" cy="196.2" r="6.85"/><circle cx="773.0" cy="194.5" r="6.85"/><circle cx="772.0" cy="195.7" r="6.85"/><circle cx="772.7" cy="195.4" r="6.85"/><circle cx="772.2" cy="195.6" r="6.85"/><circle cx="773.5" cy="193.2" r="6.85"/><circle cx="773.4" cy="192.4" r="6.85"/><circle cx="773.5" cy="192.9" r="6.85"/><circle cx="774.9" cy="192.3" r="6.85"/><circle cx="775.2" cy="191.6" r="6.85"/><circle cx="774.0" cy="192.3" r="6.85"/><circle cx="775.1" cy="192.5" r="6.85"/><circle cx="772.7" cy="192.9" r="6.85"/><circle cx="775.2" cy="189.8" r="6.85"/><circle cx="775.9" cy="189.8" r="6.85"/><circle cx="776.1" cy="189.5" r="6.85"/><circle cx="775.6" cy="189.7" r="6.85"/><circle cx="775.3" cy="188.9" r="6.85"/><circle cx="776.7" cy="187.3" r="6.85"/><circle cx="776.9" cy="187.2" r="6.85"/><circle cx="776.4" cy="187.9" r="6.85"/><circle cx="777.8" cy="187.0" r="6.85"/><circle cx="777.5" cy="186.9" r="6.85"/><circle cx="776.7" cy="188.3" r="6.85"/><circle cx="779.4" cy="185.6" r="6.85"/><circle cx="779.1" cy="185.6" r="6.85"/><circle cx="780.1" cy="185.4" r="6.85"/><circle cx="779.9" cy="185.2" r="6.85"/><circle cx="779.4" cy="185.6" r="6.85"/><circle cx="781.5" cy="182.5" r="6.85"/><circle cx="781.1" cy="183.3" r="6.85"/><circle cx="781.2" cy="183.2" r="6.85"/><circle cx="780.6" cy="183.5" r="6.85"/><circle cx="780.9" cy="183.1" r="6.85"/><circle cx="783.5" cy="182.4" r="6.85"/><circle cx="784.8" cy="181.8" r="6.85"/><circle cx="784.8" cy="182.1" r="6.85"/><circle cx="786.6" cy="181.5" r="6.85"/><circle cx="786.4" cy="182.7" r="6.85"/><circle cx="787.1" cy="181.2" r="6.85"/><circle cx="786.8" cy="180.8" r="6.85"/><circle cx="787.1" cy="181.3" r="6.85"/><circle cx="790.7" cy="179.1" r="6.85"/><circle cx="790.7" cy="178.4" r="6.85"/><circle cx="790.3" cy="179.1" r="6.85"/><circle cx="795.5" cy="178.5" r="6.85"/><circle cx="795.7" cy="175.8" r="6.85"/><circle cx="796.6" cy="172.5" r="6.85"/><circle cx="797.0" cy="172.8" r="6.85"/><circle cx="797.6" cy="169.8" r="6.85"/><circle cx="800.1" cy="166.3" r="6.85"/><circle cx="802.5" cy="163.7" r="6.85"/><circle cx="807.9" cy="147.0" r="6.85"/><circle cx="806.5" cy="150.9" r="6.85"/></g>
<line x1="102.1" y1="812.1" x2="806.1" y2="164.6" stroke="#ff0000" stroke-opacity="0.35" stroke-width="4.17" stroke-linecap="square"/>
<line x1="60" y1="886.35" x2="850" y2="101.85" stroke="#0000ff" stroke-opacity="0.35" stroke-width="4.17"/></g>
<rect x="67.5" y="110.5" width="775.0" height="770.0" fill="none" stroke="#000" stroke-width="1.11"/>
<g stroke="#000" stroke-width="1.05"><line x1="81.5" y1="880.5" x2="81.5" y2="885.40"/><line x1="67.5" y1="866.5" x2="62.60" y2="866.5"/><line x1="170.5" y1="880.5" x2="170.5" y2="885.40"/><line x1="67.5" y1="778.5" x2="62.60" y2="778.5"/><line x1="258.5" y1="880.5" x2="258.5" y2="885.40"/><line x1="67.5" y1="689.5" x2="62.60" y2="689.5"/><line x1="347.5" y1="880.5" x2="347.5" y2="885.40"/><line x1="67.5" y1="601.5" x2="62.60" y2="601.5"/><line x1="436.5" y1="880.5" x2="436.5" y2="885.40"/><line x1="67.5" y1="513.5" x2="62.60" y2="513.5"/><line x1="524.5" y1="880.5" x2="524.5" y2="885.40"/><line x1="67.5" y1="425.5" x2="62.60" y2="425.5"/><line x1="613.5" y1="880.5" x2="613.5" y2="885.40"/><line x1="67.5" y1="337.5" x2="62.60" y2="337.5"/><line x1="702.5" y1="880.5" x2="702.5" y2="885.40"/><line x1="67.5" y1="249.5" x2="62.60" y2="249.5"/><line x1="790.5" y1="880.5" x2="790.5" y2="885.40"/><line x1="67.5" y1="161.5" x2="62.60" y2="161.5"/></g>
<g font-size="13.89"><text x="81.6" y="900.9" text-anchor="middle">180</text><text x="57.7" y="871.6" text-anchor="end">180</text><text x="169.6" y="900.9" text-anchor="middle">200</text><text x="57.7" y="783.6" text-anchor="end">200</text><text x="258.1" y="900.9" text-anchor="middle">220</text><text x="57.7" y="694.6" text-anchor="end">220</text><text x="347.1" y="900.9" text-anchor="middle">240</text><text x="57.7" y="606.6" text-anchor="end">240</text><text x="435.4" y="900.9" text-anchor="middle">260</text><text x="57.7" y="518.6" text-anchor="end">260</text><text x="524.1" y="900.9" text-anchor="middle">280</text><text x="57.7" y="430.6" text-anchor="end">280</text><text x="613.4" y="900.9" text-anchor="middle">300</text><text x="57.7" y="342.6" text-anchor="end">300</text><text x="702.3" y="900.9" text-anchor="middle">320</text><text x="57.7" y="254.6" text-anchor="end">320</text><text x="790.4" y="900.9" text-anchor="middle">340</text><text x="57.7" y="166.6" text-anchor="end">340</text></g>
<text x="453.5" y="920.7" font-size="16.45" text-anchor="middle">Simulated</text>
<text transform="translate(21.6,496.4) rotate(-90)" font-size="16.5" text-anchor="middle">Observed</text>
</svg></body></html>
